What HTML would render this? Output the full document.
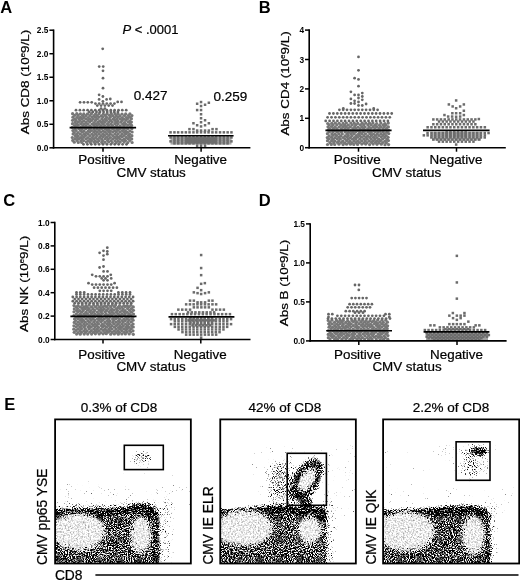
<!DOCTYPE html>
<html><head><meta charset="utf-8"><style>
html,body{margin:0;padding:0;background:#fff;}
svg{display:block;font-family:"Liberation Sans",sans-serif;filter:grayscale(1);} text{stroke:#000;stroke-width:0.22px;} text[font-weight=bold]{stroke:none;}
</style></head><body>
<svg width="520" height="581" viewBox="0 0 520 581">
<rect x="170.5" y="136.6" width="61.0" height="8.0" fill="#a8a8a8"/><rect x="432" y="132" width="49.0" height="8.5" fill="#b4b4b4"/><rect x="426" y="332.5" width="62.0" height="7.7" fill="#a0a0a0"/><g fill="#777777"><circle cx="72.6" cy="113.7" r="1.62"/><circle cx="76.8" cy="113.6" r="1.62"/><circle cx="80.4" cy="113.8" r="1.62"/><circle cx="83.8" cy="113.9" r="1.62"/><circle cx="87.5" cy="113.9" r="1.62"/><circle cx="91.4" cy="113.7" r="1.62"/><circle cx="95.5" cy="114.1" r="1.62"/><circle cx="99.0" cy="113.7" r="1.62"/><circle cx="103.3" cy="114.2" r="1.62"/><circle cx="107.1" cy="113.8" r="1.62"/><circle cx="111.3" cy="113.6" r="1.62"/><circle cx="115.0" cy="113.8" r="1.62"/><circle cx="118.0" cy="113.7" r="1.62"/><circle cx="122.0" cy="114.1" r="1.62"/><circle cx="125.7" cy="113.9" r="1.62"/><circle cx="129.9" cy="113.8" r="1.62"/><circle cx="74.7" cy="115.3" r="1.62"/><circle cx="78.1" cy="115.4" r="1.62"/><circle cx="82.5" cy="115.5" r="1.62"/><circle cx="85.9" cy="115.6" r="1.62"/><circle cx="89.9" cy="115.5" r="1.62"/><circle cx="94.0" cy="115.7" r="1.62"/><circle cx="97.2" cy="115.6" r="1.62"/><circle cx="101.3" cy="115.8" r="1.62"/><circle cx="105.3" cy="115.4" r="1.62"/><circle cx="109.4" cy="115.3" r="1.62"/><circle cx="112.6" cy="115.7" r="1.62"/><circle cx="116.2" cy="115.6" r="1.62"/><circle cx="119.8" cy="115.7" r="1.62"/><circle cx="124.4" cy="115.6" r="1.62"/><circle cx="128.3" cy="115.5" r="1.62"/><circle cx="131.9" cy="115.6" r="1.62"/><circle cx="72.9" cy="117.2" r="1.62"/><circle cx="76.9" cy="117.5" r="1.62"/><circle cx="80.4" cy="117.3" r="1.62"/><circle cx="83.8" cy="117.4" r="1.62"/><circle cx="88.1" cy="117.5" r="1.62"/><circle cx="92.1" cy="117.1" r="1.62"/><circle cx="95.5" cy="117.3" r="1.62"/><circle cx="98.9" cy="117.2" r="1.62"/><circle cx="102.9" cy="117.0" r="1.62"/><circle cx="106.6" cy="117.4" r="1.62"/><circle cx="110.4" cy="117.1" r="1.62"/><circle cx="114.5" cy="117.5" r="1.62"/><circle cx="118.0" cy="117.2" r="1.62"/><circle cx="122.2" cy="117.5" r="1.62"/><circle cx="126.3" cy="117.5" r="1.62"/><circle cx="129.6" cy="117.2" r="1.62"/><circle cx="74.6" cy="119.1" r="1.62"/><circle cx="79.0" cy="118.7" r="1.62"/><circle cx="82.0" cy="118.8" r="1.62"/><circle cx="85.8" cy="118.9" r="1.62"/><circle cx="90.0" cy="118.8" r="1.62"/><circle cx="93.2" cy="118.9" r="1.62"/><circle cx="97.4" cy="119.0" r="1.62"/><circle cx="101.8" cy="119.0" r="1.62"/><circle cx="105.1" cy="119.0" r="1.62"/><circle cx="109.1" cy="118.6" r="1.62"/><circle cx="113.1" cy="119.1" r="1.62"/><circle cx="116.9" cy="119.1" r="1.62"/><circle cx="120.2" cy="118.9" r="1.62"/><circle cx="123.7" cy="119.0" r="1.62"/><circle cx="127.5" cy="118.7" r="1.62"/><circle cx="131.4" cy="118.7" r="1.62"/><circle cx="72.6" cy="120.3" r="1.62"/><circle cx="76.1" cy="120.4" r="1.62"/><circle cx="80.0" cy="120.5" r="1.62"/><circle cx="83.7" cy="120.8" r="1.62"/><circle cx="88.1" cy="120.4" r="1.62"/><circle cx="91.6" cy="120.5" r="1.62"/><circle cx="95.5" cy="120.4" r="1.62"/><circle cx="99.7" cy="120.9" r="1.62"/><circle cx="103.2" cy="120.6" r="1.62"/><circle cx="106.6" cy="120.3" r="1.62"/><circle cx="110.6" cy="120.4" r="1.62"/><circle cx="114.9" cy="120.4" r="1.62"/><circle cx="117.9" cy="120.9" r="1.62"/><circle cx="122.2" cy="120.4" r="1.62"/><circle cx="126.0" cy="120.3" r="1.62"/><circle cx="129.8" cy="120.9" r="1.62"/><circle cx="75.1" cy="122.4" r="1.62"/><circle cx="78.3" cy="122.2" r="1.62"/><circle cx="82.0" cy="122.4" r="1.62"/><circle cx="86.1" cy="122.4" r="1.62"/><circle cx="89.7" cy="122.1" r="1.62"/><circle cx="94.0" cy="122.5" r="1.62"/><circle cx="97.9" cy="122.4" r="1.62"/><circle cx="101.6" cy="122.4" r="1.62"/><circle cx="104.8" cy="122.3" r="1.62"/><circle cx="108.8" cy="122.0" r="1.62"/><circle cx="112.2" cy="122.1" r="1.62"/><circle cx="116.3" cy="122.4" r="1.62"/><circle cx="120.8" cy="122.2" r="1.62"/><circle cx="124.5" cy="122.5" r="1.62"/><circle cx="128.4" cy="122.2" r="1.62"/><circle cx="131.4" cy="122.1" r="1.62"/><circle cx="72.5" cy="123.7" r="1.62"/><circle cx="76.7" cy="124.2" r="1.62"/><circle cx="80.7" cy="123.9" r="1.62"/><circle cx="84.4" cy="124.1" r="1.62"/><circle cx="87.6" cy="124.0" r="1.62"/><circle cx="92.2" cy="124.1" r="1.62"/><circle cx="95.9" cy="123.9" r="1.62"/><circle cx="99.1" cy="124.1" r="1.62"/><circle cx="103.0" cy="124.1" r="1.62"/><circle cx="107.5" cy="123.9" r="1.62"/><circle cx="110.7" cy="124.2" r="1.62"/><circle cx="114.8" cy="123.7" r="1.62"/><circle cx="118.0" cy="123.7" r="1.62"/><circle cx="122.6" cy="124.1" r="1.62"/><circle cx="125.6" cy="124.1" r="1.62"/><circle cx="130.3" cy="124.0" r="1.62"/><circle cx="74.6" cy="125.6" r="1.62"/><circle cx="78.1" cy="125.3" r="1.62"/><circle cx="82.8" cy="125.7" r="1.62"/><circle cx="86.1" cy="125.9" r="1.62"/><circle cx="89.8" cy="125.8" r="1.62"/><circle cx="94.0" cy="125.4" r="1.62"/><circle cx="97.3" cy="125.5" r="1.62"/><circle cx="101.0" cy="125.6" r="1.62"/><circle cx="104.9" cy="125.5" r="1.62"/><circle cx="108.5" cy="125.8" r="1.62"/><circle cx="112.6" cy="125.6" r="1.62"/><circle cx="116.6" cy="125.8" r="1.62"/><circle cx="120.2" cy="125.8" r="1.62"/><circle cx="124.1" cy="125.6" r="1.62"/><circle cx="127.9" cy="125.3" r="1.62"/><circle cx="131.6" cy="125.4" r="1.62"/><circle cx="72.3" cy="127.4" r="1.62"/><circle cx="76.3" cy="127.2" r="1.62"/><circle cx="80.6" cy="127.3" r="1.62"/><circle cx="84.0" cy="127.3" r="1.62"/><circle cx="88.1" cy="127.4" r="1.62"/><circle cx="91.4" cy="127.3" r="1.62"/><circle cx="95.3" cy="127.1" r="1.62"/><circle cx="99.7" cy="127.3" r="1.62"/><circle cx="103.3" cy="127.4" r="1.62"/><circle cx="107.4" cy="127.2" r="1.62"/><circle cx="110.9" cy="127.3" r="1.62"/><circle cx="114.6" cy="127.4" r="1.62"/><circle cx="118.4" cy="127.3" r="1.62"/><circle cx="122.2" cy="127.5" r="1.62"/><circle cx="126.2" cy="127.5" r="1.62"/><circle cx="130.2" cy="127.1" r="1.62"/><circle cx="74.8" cy="129.2" r="1.62"/><circle cx="78.8" cy="128.7" r="1.62"/><circle cx="81.9" cy="128.9" r="1.62"/><circle cx="85.7" cy="128.8" r="1.62"/><circle cx="89.5" cy="129.0" r="1.62"/><circle cx="94.0" cy="129.2" r="1.62"/><circle cx="97.2" cy="129.1" r="1.62"/><circle cx="101.5" cy="128.7" r="1.62"/><circle cx="105.5" cy="129.2" r="1.62"/><circle cx="108.6" cy="129.2" r="1.62"/><circle cx="112.6" cy="128.9" r="1.62"/><circle cx="117.0" cy="129.1" r="1.62"/><circle cx="120.0" cy="128.9" r="1.62"/><circle cx="124.1" cy="128.8" r="1.62"/><circle cx="127.6" cy="128.8" r="1.62"/><circle cx="131.9" cy="128.6" r="1.62"/><circle cx="72.9" cy="130.6" r="1.62"/><circle cx="76.1" cy="130.5" r="1.62"/><circle cx="80.5" cy="130.6" r="1.62"/><circle cx="83.8" cy="130.9" r="1.62"/><circle cx="88.3" cy="130.9" r="1.62"/><circle cx="91.4" cy="130.5" r="1.62"/><circle cx="95.1" cy="130.8" r="1.62"/><circle cx="99.2" cy="130.4" r="1.62"/><circle cx="103.1" cy="130.9" r="1.62"/><circle cx="107.3" cy="130.5" r="1.62"/><circle cx="110.4" cy="130.9" r="1.62"/><circle cx="114.7" cy="130.7" r="1.62"/><circle cx="118.0" cy="130.3" r="1.62"/><circle cx="122.4" cy="130.6" r="1.62"/><circle cx="125.6" cy="130.9" r="1.62"/><circle cx="129.9" cy="130.8" r="1.62"/><circle cx="74.3" cy="132.5" r="1.62"/><circle cx="78.1" cy="132.5" r="1.62"/><circle cx="82.3" cy="132.2" r="1.62"/><circle cx="86.2" cy="132.5" r="1.62"/><circle cx="89.7" cy="132.1" r="1.62"/><circle cx="93.7" cy="132.1" r="1.62"/><circle cx="97.1" cy="132.1" r="1.62"/><circle cx="100.9" cy="132.1" r="1.62"/><circle cx="104.9" cy="132.2" r="1.62"/><circle cx="109.2" cy="132.2" r="1.62"/><circle cx="112.7" cy="132.1" r="1.62"/><circle cx="116.3" cy="132.0" r="1.62"/><circle cx="120.1" cy="132.0" r="1.62"/><circle cx="124.3" cy="132.3" r="1.62"/><circle cx="127.6" cy="132.3" r="1.62"/><circle cx="132.1" cy="132.0" r="1.62"/><circle cx="73.1" cy="133.9" r="1.62"/><circle cx="76.6" cy="134.1" r="1.62"/><circle cx="80.3" cy="134.0" r="1.62"/><circle cx="84.4" cy="134.2" r="1.62"/><circle cx="87.8" cy="134.1" r="1.62"/><circle cx="92.0" cy="134.0" r="1.62"/><circle cx="95.5" cy="133.9" r="1.62"/><circle cx="99.0" cy="133.7" r="1.62"/><circle cx="102.8" cy="134.1" r="1.62"/><circle cx="106.8" cy="133.7" r="1.62"/><circle cx="110.4" cy="134.2" r="1.62"/><circle cx="115.0" cy="134.0" r="1.62"/><circle cx="118.2" cy="133.8" r="1.62"/><circle cx="122.0" cy="133.9" r="1.62"/><circle cx="125.7" cy="133.9" r="1.62"/><circle cx="129.6" cy="134.2" r="1.62"/><circle cx="75.2" cy="135.6" r="1.62"/><circle cx="78.2" cy="135.9" r="1.62"/><circle cx="82.1" cy="135.5" r="1.62"/><circle cx="85.6" cy="135.5" r="1.62"/><circle cx="89.9" cy="135.6" r="1.62"/><circle cx="93.4" cy="135.6" r="1.62"/><circle cx="97.0" cy="135.5" r="1.62"/><circle cx="100.9" cy="135.6" r="1.62"/><circle cx="104.6" cy="135.3" r="1.62"/><circle cx="108.7" cy="135.5" r="1.62"/><circle cx="112.8" cy="135.6" r="1.62"/><circle cx="116.8" cy="135.7" r="1.62"/><circle cx="120.5" cy="135.8" r="1.62"/><circle cx="124.0" cy="135.5" r="1.62"/><circle cx="128.4" cy="135.4" r="1.62"/><circle cx="131.9" cy="135.7" r="1.62"/><circle cx="72.3" cy="137.5" r="1.62"/><circle cx="77.0" cy="137.4" r="1.62"/><circle cx="80.6" cy="137.5" r="1.62"/><circle cx="83.8" cy="137.3" r="1.62"/><circle cx="88.0" cy="137.5" r="1.62"/><circle cx="92.1" cy="137.5" r="1.62"/><circle cx="95.7" cy="137.5" r="1.62"/><circle cx="99.6" cy="137.4" r="1.62"/><circle cx="102.9" cy="137.0" r="1.62"/><circle cx="106.6" cy="137.2" r="1.62"/><circle cx="110.4" cy="137.5" r="1.62"/><circle cx="114.7" cy="137.4" r="1.62"/><circle cx="118.5" cy="137.4" r="1.62"/><circle cx="122.2" cy="137.0" r="1.62"/><circle cx="126.3" cy="137.4" r="1.62"/><circle cx="129.8" cy="137.3" r="1.62"/><circle cx="74.9" cy="138.7" r="1.62"/><circle cx="78.7" cy="138.8" r="1.62"/><circle cx="81.9" cy="138.8" r="1.62"/><circle cx="86.3" cy="138.8" r="1.62"/><circle cx="90.1" cy="139.2" r="1.62"/><circle cx="93.7" cy="138.9" r="1.62"/><circle cx="97.5" cy="139.1" r="1.62"/><circle cx="101.6" cy="139.0" r="1.62"/><circle cx="105.2" cy="138.7" r="1.62"/><circle cx="108.5" cy="138.8" r="1.62"/><circle cx="112.9" cy="138.8" r="1.62"/><circle cx="116.6" cy="138.7" r="1.62"/><circle cx="119.9" cy="138.8" r="1.62"/><circle cx="124.3" cy="139.1" r="1.62"/><circle cx="128.1" cy="138.8" r="1.62"/><circle cx="131.7" cy="138.9" r="1.62"/><circle cx="72.8" cy="140.4" r="1.62"/><circle cx="77.0" cy="140.4" r="1.62"/><circle cx="80.9" cy="140.9" r="1.62"/><circle cx="83.7" cy="140.6" r="1.62"/><circle cx="88.3" cy="140.9" r="1.62"/><circle cx="91.7" cy="140.5" r="1.62"/><circle cx="95.3" cy="140.9" r="1.62"/><circle cx="99.1" cy="140.7" r="1.62"/><circle cx="102.8" cy="140.6" r="1.62"/><circle cx="107.5" cy="140.4" r="1.62"/><circle cx="111.1" cy="140.6" r="1.62"/><circle cx="115.0" cy="140.8" r="1.62"/><circle cx="118.1" cy="140.9" r="1.62"/><circle cx="122.2" cy="140.3" r="1.62"/><circle cx="125.5" cy="140.6" r="1.62"/><circle cx="129.8" cy="140.5" r="1.62"/><circle cx="74.3" cy="142.2" r="1.62"/><circle cx="78.3" cy="142.5" r="1.62"/><circle cx="81.8" cy="142.5" r="1.62"/><circle cx="86.4" cy="142.1" r="1.62"/><circle cx="90.3" cy="142.4" r="1.62"/><circle cx="94.1" cy="142.2" r="1.62"/><circle cx="97.4" cy="142.2" r="1.62"/><circle cx="101.8" cy="142.4" r="1.62"/><circle cx="105.0" cy="142.3" r="1.62"/><circle cx="108.7" cy="142.0" r="1.62"/><circle cx="112.3" cy="142.5" r="1.62"/><circle cx="116.3" cy="142.6" r="1.62"/><circle cx="120.0" cy="142.2" r="1.62"/><circle cx="124.1" cy="142.1" r="1.62"/><circle cx="127.8" cy="142.6" r="1.62"/><circle cx="132.1" cy="142.5" r="1.62"/><circle cx="327.7" cy="123.5" r="1.62"/><circle cx="331.8" cy="123.3" r="1.62"/><circle cx="335.4" cy="123.0" r="1.62"/><circle cx="339.2" cy="123.3" r="1.62"/><circle cx="343.1" cy="123.4" r="1.62"/><circle cx="346.4" cy="123.0" r="1.62"/><circle cx="350.8" cy="123.1" r="1.62"/><circle cx="354.2" cy="123.2" r="1.62"/><circle cx="357.8" cy="123.4" r="1.62"/><circle cx="362.3" cy="123.2" r="1.62"/><circle cx="365.8" cy="123.2" r="1.62"/><circle cx="369.5" cy="123.2" r="1.62"/><circle cx="372.9" cy="123.1" r="1.62"/><circle cx="376.7" cy="123.5" r="1.62"/><circle cx="380.8" cy="123.1" r="1.62"/><circle cx="385.0" cy="123.6" r="1.62"/><circle cx="388.3" cy="123.1" r="1.62"/><circle cx="329.2" cy="124.8" r="1.62"/><circle cx="333.1" cy="124.8" r="1.62"/><circle cx="336.8" cy="124.9" r="1.62"/><circle cx="341.0" cy="125.3" r="1.62"/><circle cx="344.9" cy="125.0" r="1.62"/><circle cx="348.4" cy="125.1" r="1.62"/><circle cx="352.2" cy="125.0" r="1.62"/><circle cx="355.7" cy="124.9" r="1.62"/><circle cx="360.4" cy="124.8" r="1.62"/><circle cx="363.7" cy="125.1" r="1.62"/><circle cx="367.9" cy="124.9" r="1.62"/><circle cx="371.1" cy="124.9" r="1.62"/><circle cx="375.0" cy="125.0" r="1.62"/><circle cx="379.4" cy="125.3" r="1.62"/><circle cx="383.1" cy="124.8" r="1.62"/><circle cx="386.0" cy="125.2" r="1.62"/><circle cx="328.0" cy="126.8" r="1.62"/><circle cx="331.5" cy="126.5" r="1.62"/><circle cx="335.1" cy="127.1" r="1.62"/><circle cx="339.3" cy="127.0" r="1.62"/><circle cx="343.3" cy="126.7" r="1.62"/><circle cx="346.2" cy="126.6" r="1.62"/><circle cx="350.4" cy="126.9" r="1.62"/><circle cx="354.6" cy="126.9" r="1.62"/><circle cx="358.1" cy="127.0" r="1.62"/><circle cx="361.8" cy="126.8" r="1.62"/><circle cx="365.1" cy="127.0" r="1.62"/><circle cx="369.1" cy="127.1" r="1.62"/><circle cx="373.3" cy="126.7" r="1.62"/><circle cx="376.6" cy="126.7" r="1.62"/><circle cx="380.9" cy="126.9" r="1.62"/><circle cx="384.2" cy="126.6" r="1.62"/><circle cx="388.4" cy="126.9" r="1.62"/><circle cx="329.4" cy="128.4" r="1.62"/><circle cx="333.4" cy="128.3" r="1.62"/><circle cx="336.9" cy="128.6" r="1.62"/><circle cx="341.4" cy="128.7" r="1.62"/><circle cx="345.1" cy="128.6" r="1.62"/><circle cx="348.2" cy="128.4" r="1.62"/><circle cx="352.8" cy="128.7" r="1.62"/><circle cx="355.9" cy="128.3" r="1.62"/><circle cx="359.9" cy="128.7" r="1.62"/><circle cx="363.6" cy="128.4" r="1.62"/><circle cx="367.7" cy="128.8" r="1.62"/><circle cx="371.0" cy="128.3" r="1.62"/><circle cx="374.9" cy="128.5" r="1.62"/><circle cx="379.1" cy="128.4" r="1.62"/><circle cx="383.0" cy="128.7" r="1.62"/><circle cx="386.5" cy="128.4" r="1.62"/><circle cx="328.1" cy="130.2" r="1.62"/><circle cx="331.7" cy="130.2" r="1.62"/><circle cx="334.9" cy="130.5" r="1.62"/><circle cx="338.8" cy="130.6" r="1.62"/><circle cx="342.8" cy="130.1" r="1.62"/><circle cx="346.3" cy="130.3" r="1.62"/><circle cx="350.6" cy="130.6" r="1.62"/><circle cx="353.8" cy="130.3" r="1.62"/><circle cx="357.7" cy="130.6" r="1.62"/><circle cx="361.4" cy="130.1" r="1.62"/><circle cx="365.2" cy="130.3" r="1.62"/><circle cx="369.8" cy="130.6" r="1.62"/><circle cx="373.4" cy="130.6" r="1.62"/><circle cx="377.4" cy="130.2" r="1.62"/><circle cx="380.5" cy="130.6" r="1.62"/><circle cx="384.8" cy="130.1" r="1.62"/><circle cx="388.6" cy="130.3" r="1.62"/><circle cx="329.4" cy="132.0" r="1.62"/><circle cx="333.0" cy="131.8" r="1.62"/><circle cx="336.9" cy="132.0" r="1.62"/><circle cx="341.4" cy="131.9" r="1.62"/><circle cx="345.2" cy="131.9" r="1.62"/><circle cx="348.4" cy="132.3" r="1.62"/><circle cx="352.6" cy="132.1" r="1.62"/><circle cx="355.6" cy="132.1" r="1.62"/><circle cx="359.8" cy="132.3" r="1.62"/><circle cx="363.4" cy="132.0" r="1.62"/><circle cx="367.9" cy="131.8" r="1.62"/><circle cx="371.2" cy="132.3" r="1.62"/><circle cx="375.4" cy="131.8" r="1.62"/><circle cx="378.4" cy="131.8" r="1.62"/><circle cx="383.1" cy="131.9" r="1.62"/><circle cx="386.7" cy="132.3" r="1.62"/><circle cx="327.4" cy="133.7" r="1.62"/><circle cx="331.9" cy="133.9" r="1.62"/><circle cx="335.0" cy="134.0" r="1.62"/><circle cx="338.8" cy="133.7" r="1.62"/><circle cx="342.3" cy="134.0" r="1.62"/><circle cx="347.0" cy="133.9" r="1.62"/><circle cx="350.8" cy="133.6" r="1.62"/><circle cx="353.9" cy="133.8" r="1.62"/><circle cx="358.5" cy="134.1" r="1.62"/><circle cx="361.7" cy="133.7" r="1.62"/><circle cx="365.5" cy="133.8" r="1.62"/><circle cx="369.8" cy="133.7" r="1.62"/><circle cx="373.5" cy="134.0" r="1.62"/><circle cx="377.3" cy="134.0" r="1.62"/><circle cx="380.9" cy="133.7" r="1.62"/><circle cx="384.4" cy="133.8" r="1.62"/><circle cx="388.7" cy="133.6" r="1.62"/><circle cx="329.2" cy="135.8" r="1.62"/><circle cx="333.0" cy="135.3" r="1.62"/><circle cx="336.6" cy="135.6" r="1.62"/><circle cx="340.7" cy="135.9" r="1.62"/><circle cx="345.1" cy="135.9" r="1.62"/><circle cx="348.3" cy="135.4" r="1.62"/><circle cx="351.9" cy="135.6" r="1.62"/><circle cx="356.3" cy="135.6" r="1.62"/><circle cx="359.6" cy="135.6" r="1.62"/><circle cx="363.8" cy="135.7" r="1.62"/><circle cx="367.7" cy="135.8" r="1.62"/><circle cx="371.5" cy="135.4" r="1.62"/><circle cx="375.4" cy="135.5" r="1.62"/><circle cx="379.0" cy="135.5" r="1.62"/><circle cx="382.9" cy="135.4" r="1.62"/><circle cx="386.2" cy="135.5" r="1.62"/><circle cx="327.3" cy="137.6" r="1.62"/><circle cx="331.5" cy="137.3" r="1.62"/><circle cx="335.1" cy="137.7" r="1.62"/><circle cx="339.0" cy="137.2" r="1.62"/><circle cx="343.1" cy="137.5" r="1.62"/><circle cx="347.1" cy="137.1" r="1.62"/><circle cx="350.4" cy="137.6" r="1.62"/><circle cx="354.5" cy="137.6" r="1.62"/><circle cx="357.5" cy="137.2" r="1.62"/><circle cx="361.4" cy="137.2" r="1.62"/><circle cx="366.1" cy="137.4" r="1.62"/><circle cx="369.8" cy="137.3" r="1.62"/><circle cx="373.6" cy="137.3" r="1.62"/><circle cx="376.8" cy="137.5" r="1.62"/><circle cx="381.2" cy="137.1" r="1.62"/><circle cx="384.7" cy="137.4" r="1.62"/><circle cx="388.1" cy="137.3" r="1.62"/><circle cx="329.1" cy="138.9" r="1.62"/><circle cx="333.1" cy="139.2" r="1.62"/><circle cx="337.3" cy="138.9" r="1.62"/><circle cx="340.4" cy="139.0" r="1.62"/><circle cx="344.9" cy="138.9" r="1.62"/><circle cx="348.3" cy="138.9" r="1.62"/><circle cx="352.6" cy="139.2" r="1.62"/><circle cx="355.7" cy="138.9" r="1.62"/><circle cx="359.8" cy="139.2" r="1.62"/><circle cx="363.8" cy="138.9" r="1.62"/><circle cx="367.2" cy="139.2" r="1.62"/><circle cx="371.2" cy="139.0" r="1.62"/><circle cx="374.9" cy="139.4" r="1.62"/><circle cx="378.7" cy="139.2" r="1.62"/><circle cx="382.6" cy="139.1" r="1.62"/><circle cx="386.9" cy="139.4" r="1.62"/><circle cx="327.5" cy="140.7" r="1.62"/><circle cx="331.6" cy="140.7" r="1.62"/><circle cx="334.7" cy="141.1" r="1.62"/><circle cx="338.9" cy="141.1" r="1.62"/><circle cx="342.7" cy="141.1" r="1.62"/><circle cx="346.6" cy="140.7" r="1.62"/><circle cx="349.9" cy="140.9" r="1.62"/><circle cx="354.3" cy="141.1" r="1.62"/><circle cx="357.6" cy="141.0" r="1.62"/><circle cx="361.7" cy="140.9" r="1.62"/><circle cx="365.2" cy="140.8" r="1.62"/><circle cx="369.4" cy="141.1" r="1.62"/><circle cx="372.8" cy="140.9" r="1.62"/><circle cx="377.3" cy="141.2" r="1.62"/><circle cx="380.5" cy="140.7" r="1.62"/><circle cx="385.0" cy="141.2" r="1.62"/><circle cx="388.4" cy="140.6" r="1.62"/><circle cx="329.9" cy="142.6" r="1.62"/><circle cx="333.7" cy="142.7" r="1.62"/><circle cx="337.4" cy="142.4" r="1.62"/><circle cx="341.2" cy="142.5" r="1.62"/><circle cx="344.6" cy="142.8" r="1.62"/><circle cx="348.8" cy="142.5" r="1.62"/><circle cx="352.0" cy="142.6" r="1.62"/><circle cx="356.1" cy="142.6" r="1.62"/><circle cx="359.5" cy="142.5" r="1.62"/><circle cx="363.9" cy="142.9" r="1.62"/><circle cx="367.0" cy="142.7" r="1.62"/><circle cx="371.6" cy="142.4" r="1.62"/><circle cx="375.4" cy="142.4" r="1.62"/><circle cx="379.0" cy="142.7" r="1.62"/><circle cx="382.8" cy="142.5" r="1.62"/><circle cx="386.4" cy="142.7" r="1.62"/><circle cx="327.5" cy="144.5" r="1.62"/><circle cx="331.3" cy="144.4" r="1.62"/><circle cx="334.7" cy="144.5" r="1.62"/><circle cx="339.0" cy="144.2" r="1.62"/><circle cx="343.1" cy="144.6" r="1.62"/><circle cx="346.6" cy="144.2" r="1.62"/><circle cx="350.4" cy="144.2" r="1.62"/><circle cx="353.8" cy="144.4" r="1.62"/><circle cx="357.6" cy="144.4" r="1.62"/><circle cx="361.8" cy="144.1" r="1.62"/><circle cx="365.7" cy="144.1" r="1.62"/><circle cx="369.6" cy="144.6" r="1.62"/><circle cx="373.2" cy="144.1" r="1.62"/><circle cx="377.0" cy="144.3" r="1.62"/><circle cx="381.3" cy="144.2" r="1.62"/><circle cx="385.0" cy="144.7" r="1.62"/><circle cx="388.6" cy="144.6" r="1.62"/><circle cx="74.0" cy="305.6" r="1.62"/><circle cx="78.1" cy="305.6" r="1.62"/><circle cx="82.3" cy="305.1" r="1.62"/><circle cx="86.0" cy="305.6" r="1.62"/><circle cx="89.1" cy="305.2" r="1.62"/><circle cx="93.6" cy="305.1" r="1.62"/><circle cx="97.5" cy="305.2" r="1.62"/><circle cx="101.2" cy="305.1" r="1.62"/><circle cx="104.7" cy="305.6" r="1.62"/><circle cx="108.2" cy="305.2" r="1.62"/><circle cx="112.3" cy="305.2" r="1.62"/><circle cx="115.6" cy="305.1" r="1.62"/><circle cx="119.6" cy="305.6" r="1.62"/><circle cx="123.9" cy="305.5" r="1.62"/><circle cx="127.2" cy="305.5" r="1.62"/><circle cx="130.9" cy="305.3" r="1.62"/><circle cx="76.3" cy="306.9" r="1.62"/><circle cx="80.4" cy="307.0" r="1.62"/><circle cx="83.9" cy="307.2" r="1.62"/><circle cx="87.2" cy="307.3" r="1.62"/><circle cx="91.5" cy="306.9" r="1.62"/><circle cx="95.5" cy="306.8" r="1.62"/><circle cx="99.5" cy="307.0" r="1.62"/><circle cx="102.7" cy="307.1" r="1.62"/><circle cx="106.5" cy="306.8" r="1.62"/><circle cx="110.6" cy="306.7" r="1.62"/><circle cx="114.5" cy="306.8" r="1.62"/><circle cx="118.1" cy="307.3" r="1.62"/><circle cx="121.9" cy="307.1" r="1.62"/><circle cx="125.4" cy="306.7" r="1.62"/><circle cx="128.9" cy="306.8" r="1.62"/><circle cx="133.3" cy="306.9" r="1.62"/><circle cx="74.3" cy="308.9" r="1.62"/><circle cx="77.7" cy="308.5" r="1.62"/><circle cx="82.1" cy="308.4" r="1.62"/><circle cx="85.2" cy="308.6" r="1.62"/><circle cx="89.1" cy="308.6" r="1.62"/><circle cx="93.0" cy="308.7" r="1.62"/><circle cx="97.2" cy="308.5" r="1.62"/><circle cx="101.0" cy="308.7" r="1.62"/><circle cx="104.3" cy="308.9" r="1.62"/><circle cx="108.2" cy="308.5" r="1.62"/><circle cx="111.9" cy="308.8" r="1.62"/><circle cx="116.5" cy="308.8" r="1.62"/><circle cx="119.8" cy="308.5" r="1.62"/><circle cx="123.2" cy="308.8" r="1.62"/><circle cx="127.6" cy="308.6" r="1.62"/><circle cx="131.4" cy="308.6" r="1.62"/><circle cx="76.6" cy="310.5" r="1.62"/><circle cx="79.7" cy="310.6" r="1.62"/><circle cx="83.3" cy="310.4" r="1.62"/><circle cx="87.5" cy="310.2" r="1.62"/><circle cx="91.0" cy="310.5" r="1.62"/><circle cx="94.7" cy="310.4" r="1.62"/><circle cx="99.4" cy="310.2" r="1.62"/><circle cx="102.5" cy="310.4" r="1.62"/><circle cx="106.6" cy="310.4" r="1.62"/><circle cx="110.7" cy="310.2" r="1.62"/><circle cx="114.0" cy="310.2" r="1.62"/><circle cx="117.5" cy="310.6" r="1.62"/><circle cx="122.1" cy="310.5" r="1.62"/><circle cx="125.1" cy="310.6" r="1.62"/><circle cx="129.6" cy="310.3" r="1.62"/><circle cx="133.4" cy="310.3" r="1.62"/><circle cx="74.0" cy="311.8" r="1.62"/><circle cx="77.8" cy="311.8" r="1.62"/><circle cx="81.7" cy="312.2" r="1.62"/><circle cx="85.9" cy="312.3" r="1.62"/><circle cx="89.7" cy="311.9" r="1.62"/><circle cx="93.4" cy="312.0" r="1.62"/><circle cx="97.4" cy="312.1" r="1.62"/><circle cx="100.7" cy="312.1" r="1.62"/><circle cx="105.2" cy="311.9" r="1.62"/><circle cx="108.9" cy="311.8" r="1.62"/><circle cx="112.1" cy="311.9" r="1.62"/><circle cx="116.3" cy="312.3" r="1.62"/><circle cx="120.1" cy="311.9" r="1.62"/><circle cx="124.1" cy="312.0" r="1.62"/><circle cx="127.2" cy="312.3" r="1.62"/><circle cx="131.4" cy="312.2" r="1.62"/><circle cx="76.4" cy="314.0" r="1.62"/><circle cx="80.0" cy="313.9" r="1.62"/><circle cx="84.0" cy="314.0" r="1.62"/><circle cx="87.5" cy="313.9" r="1.62"/><circle cx="91.5" cy="313.6" r="1.62"/><circle cx="94.9" cy="313.8" r="1.62"/><circle cx="98.6" cy="314.0" r="1.62"/><circle cx="102.4" cy="313.5" r="1.62"/><circle cx="106.2" cy="314.0" r="1.62"/><circle cx="110.2" cy="313.5" r="1.62"/><circle cx="113.7" cy="313.5" r="1.62"/><circle cx="118.2" cy="313.8" r="1.62"/><circle cx="122.0" cy="313.9" r="1.62"/><circle cx="125.2" cy="313.8" r="1.62"/><circle cx="129.3" cy="313.9" r="1.62"/><circle cx="133.5" cy="314.0" r="1.62"/><circle cx="73.9" cy="315.7" r="1.62"/><circle cx="78.5" cy="315.7" r="1.62"/><circle cx="81.5" cy="315.3" r="1.62"/><circle cx="85.3" cy="315.2" r="1.62"/><circle cx="89.8" cy="315.6" r="1.62"/><circle cx="93.4" cy="315.6" r="1.62"/><circle cx="97.2" cy="315.3" r="1.62"/><circle cx="100.5" cy="315.2" r="1.62"/><circle cx="105.0" cy="315.3" r="1.62"/><circle cx="108.3" cy="315.4" r="1.62"/><circle cx="111.8" cy="315.3" r="1.62"/><circle cx="115.9" cy="315.6" r="1.62"/><circle cx="119.8" cy="315.3" r="1.62"/><circle cx="124.2" cy="315.4" r="1.62"/><circle cx="127.9" cy="315.5" r="1.62"/><circle cx="130.8" cy="315.4" r="1.62"/><circle cx="76.1" cy="317.3" r="1.62"/><circle cx="79.8" cy="317.2" r="1.62"/><circle cx="83.8" cy="316.9" r="1.62"/><circle cx="88.0" cy="316.9" r="1.62"/><circle cx="91.7" cy="316.9" r="1.62"/><circle cx="94.7" cy="316.9" r="1.62"/><circle cx="99.3" cy="317.4" r="1.62"/><circle cx="102.3" cy="317.1" r="1.62"/><circle cx="106.6" cy="317.3" r="1.62"/><circle cx="110.1" cy="317.1" r="1.62"/><circle cx="114.0" cy="317.3" r="1.62"/><circle cx="117.8" cy="317.4" r="1.62"/><circle cx="121.6" cy="316.9" r="1.62"/><circle cx="125.8" cy="317.1" r="1.62"/><circle cx="129.0" cy="317.2" r="1.62"/><circle cx="132.8" cy="317.3" r="1.62"/><circle cx="74.5" cy="319.0" r="1.62"/><circle cx="78.2" cy="318.7" r="1.62"/><circle cx="81.8" cy="318.7" r="1.62"/><circle cx="86.1" cy="318.6" r="1.62"/><circle cx="89.9" cy="318.5" r="1.62"/><circle cx="93.0" cy="318.7" r="1.62"/><circle cx="97.5" cy="318.8" r="1.62"/><circle cx="100.8" cy="319.0" r="1.62"/><circle cx="104.4" cy="318.8" r="1.62"/><circle cx="108.5" cy="319.0" r="1.62"/><circle cx="112.6" cy="318.9" r="1.62"/><circle cx="115.9" cy="318.7" r="1.62"/><circle cx="119.6" cy="319.0" r="1.62"/><circle cx="123.9" cy="319.0" r="1.62"/><circle cx="127.2" cy="318.8" r="1.62"/><circle cx="131.6" cy="318.9" r="1.62"/><circle cx="75.8" cy="320.5" r="1.62"/><circle cx="80.4" cy="320.3" r="1.62"/><circle cx="83.5" cy="320.4" r="1.62"/><circle cx="87.8" cy="320.7" r="1.62"/><circle cx="91.1" cy="320.3" r="1.62"/><circle cx="94.9" cy="320.4" r="1.62"/><circle cx="99.0" cy="320.3" r="1.62"/><circle cx="102.6" cy="320.3" r="1.62"/><circle cx="107.1" cy="320.6" r="1.62"/><circle cx="110.0" cy="320.8" r="1.62"/><circle cx="113.8" cy="320.4" r="1.62"/><circle cx="118.5" cy="320.7" r="1.62"/><circle cx="122.0" cy="320.5" r="1.62"/><circle cx="125.3" cy="320.6" r="1.62"/><circle cx="129.0" cy="320.3" r="1.62"/><circle cx="133.1" cy="320.2" r="1.62"/><circle cx="74.2" cy="322.4" r="1.62"/><circle cx="78.3" cy="322.2" r="1.62"/><circle cx="82.0" cy="322.2" r="1.62"/><circle cx="85.3" cy="322.2" r="1.62"/><circle cx="89.4" cy="322.3" r="1.62"/><circle cx="93.7" cy="322.1" r="1.62"/><circle cx="97.2" cy="322.3" r="1.62"/><circle cx="100.8" cy="322.0" r="1.62"/><circle cx="104.9" cy="322.4" r="1.62"/><circle cx="108.8" cy="322.3" r="1.62"/><circle cx="112.7" cy="322.3" r="1.62"/><circle cx="116.2" cy="322.2" r="1.62"/><circle cx="119.7" cy="322.3" r="1.62"/><circle cx="123.3" cy="322.1" r="1.62"/><circle cx="127.8" cy="322.3" r="1.62"/><circle cx="131.4" cy="322.0" r="1.62"/><circle cx="76.1" cy="323.8" r="1.62"/><circle cx="80.1" cy="323.8" r="1.62"/><circle cx="84.0" cy="324.1" r="1.62"/><circle cx="87.3" cy="324.0" r="1.62"/><circle cx="91.7" cy="323.8" r="1.62"/><circle cx="95.2" cy="324.2" r="1.62"/><circle cx="98.5" cy="323.9" r="1.62"/><circle cx="102.5" cy="324.0" r="1.62"/><circle cx="107.0" cy="323.9" r="1.62"/><circle cx="110.0" cy="323.9" r="1.62"/><circle cx="114.2" cy="324.0" r="1.62"/><circle cx="118.0" cy="324.0" r="1.62"/><circle cx="122.1" cy="323.9" r="1.62"/><circle cx="125.5" cy="324.1" r="1.62"/><circle cx="129.1" cy="324.0" r="1.62"/><circle cx="133.1" cy="324.0" r="1.62"/><circle cx="73.9" cy="325.8" r="1.62"/><circle cx="78.0" cy="325.3" r="1.62"/><circle cx="81.7" cy="325.5" r="1.62"/><circle cx="85.2" cy="325.5" r="1.62"/><circle cx="89.4" cy="325.7" r="1.62"/><circle cx="93.2" cy="325.4" r="1.62"/><circle cx="96.8" cy="325.7" r="1.62"/><circle cx="101.3" cy="325.6" r="1.62"/><circle cx="104.4" cy="325.7" r="1.62"/><circle cx="108.4" cy="325.4" r="1.62"/><circle cx="111.9" cy="325.7" r="1.62"/><circle cx="116.4" cy="325.6" r="1.62"/><circle cx="119.9" cy="325.6" r="1.62"/><circle cx="123.4" cy="325.8" r="1.62"/><circle cx="127.4" cy="325.6" r="1.62"/><circle cx="131.6" cy="325.7" r="1.62"/><circle cx="76.2" cy="327.1" r="1.62"/><circle cx="80.0" cy="327.0" r="1.62"/><circle cx="84.1" cy="327.2" r="1.62"/><circle cx="88.0" cy="327.1" r="1.62"/><circle cx="91.3" cy="327.1" r="1.62"/><circle cx="95.1" cy="327.1" r="1.62"/><circle cx="98.5" cy="327.4" r="1.62"/><circle cx="102.6" cy="327.1" r="1.62"/><circle cx="106.4" cy="327.2" r="1.62"/><circle cx="110.3" cy="327.3" r="1.62"/><circle cx="114.4" cy="327.2" r="1.62"/><circle cx="118.4" cy="327.5" r="1.62"/><circle cx="121.4" cy="327.4" r="1.62"/><circle cx="126.0" cy="327.4" r="1.62"/><circle cx="129.0" cy="327.4" r="1.62"/><circle cx="133.3" cy="327.0" r="1.62"/><circle cx="73.8" cy="329.2" r="1.62"/><circle cx="78.3" cy="328.8" r="1.62"/><circle cx="81.5" cy="328.7" r="1.62"/><circle cx="85.4" cy="329.1" r="1.62"/><circle cx="89.3" cy="328.7" r="1.62"/><circle cx="93.7" cy="329.1" r="1.62"/><circle cx="96.8" cy="329.2" r="1.62"/><circle cx="101.0" cy="329.1" r="1.62"/><circle cx="104.9" cy="329.2" r="1.62"/><circle cx="108.8" cy="329.1" r="1.62"/><circle cx="112.0" cy="329.1" r="1.62"/><circle cx="116.1" cy="329.1" r="1.62"/><circle cx="119.8" cy="329.2" r="1.62"/><circle cx="123.8" cy="328.8" r="1.62"/><circle cx="127.2" cy="328.7" r="1.62"/><circle cx="131.3" cy="328.7" r="1.62"/><circle cx="76.2" cy="330.4" r="1.62"/><circle cx="80.0" cy="330.6" r="1.62"/><circle cx="83.8" cy="330.8" r="1.62"/><circle cx="87.1" cy="330.8" r="1.62"/><circle cx="91.4" cy="330.7" r="1.62"/><circle cx="95.4" cy="330.8" r="1.62"/><circle cx="98.9" cy="330.6" r="1.62"/><circle cx="103.3" cy="330.4" r="1.62"/><circle cx="106.7" cy="330.7" r="1.62"/><circle cx="109.9" cy="330.7" r="1.62"/><circle cx="114.4" cy="330.9" r="1.62"/><circle cx="117.8" cy="330.9" r="1.62"/><circle cx="121.8" cy="330.6" r="1.62"/><circle cx="126.0" cy="330.3" r="1.62"/><circle cx="129.6" cy="330.7" r="1.62"/><circle cx="133.0" cy="330.8" r="1.62"/><circle cx="74.2" cy="332.3" r="1.62"/><circle cx="78.1" cy="332.5" r="1.62"/><circle cx="81.6" cy="332.3" r="1.62"/><circle cx="85.6" cy="332.3" r="1.62"/><circle cx="89.8" cy="332.2" r="1.62"/><circle cx="93.6" cy="332.3" r="1.62"/><circle cx="97.1" cy="332.2" r="1.62"/><circle cx="100.9" cy="332.6" r="1.62"/><circle cx="104.9" cy="332.5" r="1.62"/><circle cx="108.3" cy="332.2" r="1.62"/><circle cx="112.1" cy="332.4" r="1.62"/><circle cx="116.2" cy="332.5" r="1.62"/><circle cx="119.4" cy="332.4" r="1.62"/><circle cx="124.1" cy="332.3" r="1.62"/><circle cx="127.0" cy="332.2" r="1.62"/><circle cx="130.8" cy="332.1" r="1.62"/><circle cx="76.6" cy="334.1" r="1.62"/><circle cx="80.2" cy="334.2" r="1.62"/><circle cx="84.2" cy="334.1" r="1.62"/><circle cx="87.7" cy="334.1" r="1.62"/><circle cx="91.6" cy="334.1" r="1.62"/><circle cx="95.4" cy="333.8" r="1.62"/><circle cx="99.2" cy="334.0" r="1.62"/><circle cx="103.1" cy="333.8" r="1.62"/><circle cx="106.3" cy="333.7" r="1.62"/><circle cx="110.7" cy="334.2" r="1.62"/><circle cx="114.4" cy="333.9" r="1.62"/><circle cx="118.3" cy="334.2" r="1.62"/><circle cx="121.9" cy="333.9" r="1.62"/><circle cx="125.4" cy="334.0" r="1.62"/><circle cx="129.2" cy="334.0" r="1.62"/><circle cx="133.3" cy="334.3" r="1.62"/><circle cx="328.2" cy="320.4" r="1.62"/><circle cx="331.9" cy="320.2" r="1.62"/><circle cx="336.5" cy="320.4" r="1.62"/><circle cx="340.4" cy="320.4" r="1.62"/><circle cx="343.3" cy="320.3" r="1.62"/><circle cx="347.7" cy="320.7" r="1.62"/><circle cx="351.9" cy="320.4" r="1.62"/><circle cx="355.1" cy="320.2" r="1.62"/><circle cx="359.1" cy="320.2" r="1.62"/><circle cx="362.5" cy="320.1" r="1.62"/><circle cx="366.1" cy="320.5" r="1.62"/><circle cx="370.0" cy="320.7" r="1.62"/><circle cx="373.8" cy="320.6" r="1.62"/><circle cx="377.6" cy="320.1" r="1.62"/><circle cx="382.0" cy="320.2" r="1.62"/><circle cx="385.8" cy="320.2" r="1.62"/><circle cx="330.1" cy="322.3" r="1.62"/><circle cx="334.5" cy="322.3" r="1.62"/><circle cx="338.3" cy="321.9" r="1.62"/><circle cx="342.0" cy="322.2" r="1.62"/><circle cx="345.7" cy="322.4" r="1.62"/><circle cx="349.3" cy="322.4" r="1.62"/><circle cx="353.5" cy="321.8" r="1.62"/><circle cx="356.6" cy="322.2" r="1.62"/><circle cx="361.2" cy="321.9" r="1.62"/><circle cx="364.5" cy="322.2" r="1.62"/><circle cx="368.2" cy="322.3" r="1.62"/><circle cx="372.3" cy="321.8" r="1.62"/><circle cx="376.0" cy="322.2" r="1.62"/><circle cx="379.8" cy="322.2" r="1.62"/><circle cx="383.3" cy="322.3" r="1.62"/><circle cx="387.4" cy="322.2" r="1.62"/><circle cx="328.7" cy="323.8" r="1.62"/><circle cx="332.3" cy="324.0" r="1.62"/><circle cx="336.6" cy="324.0" r="1.62"/><circle cx="340.1" cy="323.7" r="1.62"/><circle cx="343.4" cy="324.1" r="1.62"/><circle cx="347.8" cy="324.0" r="1.62"/><circle cx="351.2" cy="323.9" r="1.62"/><circle cx="355.7" cy="324.0" r="1.62"/><circle cx="359.1" cy="323.7" r="1.62"/><circle cx="362.7" cy="324.1" r="1.62"/><circle cx="366.5" cy="323.9" r="1.62"/><circle cx="370.5" cy="324.1" r="1.62"/><circle cx="374.5" cy="323.7" r="1.62"/><circle cx="377.5" cy="323.7" r="1.62"/><circle cx="381.7" cy="323.9" r="1.62"/><circle cx="385.9" cy="324.1" r="1.62"/><circle cx="330.0" cy="325.7" r="1.62"/><circle cx="334.6" cy="325.7" r="1.62"/><circle cx="338.2" cy="325.4" r="1.62"/><circle cx="342.3" cy="325.7" r="1.62"/><circle cx="345.9" cy="325.8" r="1.62"/><circle cx="349.3" cy="325.3" r="1.62"/><circle cx="353.4" cy="325.7" r="1.62"/><circle cx="356.8" cy="325.7" r="1.62"/><circle cx="361.3" cy="325.4" r="1.62"/><circle cx="364.8" cy="325.6" r="1.62"/><circle cx="368.5" cy="325.4" r="1.62"/><circle cx="372.1" cy="325.7" r="1.62"/><circle cx="376.4" cy="325.5" r="1.62"/><circle cx="379.5" cy="325.7" r="1.62"/><circle cx="384.0" cy="325.4" r="1.62"/><circle cx="387.6" cy="325.8" r="1.62"/><circle cx="329.0" cy="327.2" r="1.62"/><circle cx="332.4" cy="327.3" r="1.62"/><circle cx="335.9" cy="327.1" r="1.62"/><circle cx="339.7" cy="327.4" r="1.62"/><circle cx="343.7" cy="327.3" r="1.62"/><circle cx="347.5" cy="327.2" r="1.62"/><circle cx="351.0" cy="327.0" r="1.62"/><circle cx="355.7" cy="327.2" r="1.62"/><circle cx="358.6" cy="327.3" r="1.62"/><circle cx="363.1" cy="327.0" r="1.62"/><circle cx="366.7" cy="327.1" r="1.62"/><circle cx="370.4" cy="326.9" r="1.62"/><circle cx="373.7" cy="327.5" r="1.62"/><circle cx="378.4" cy="327.2" r="1.62"/><circle cx="381.9" cy="327.1" r="1.62"/><circle cx="385.9" cy="327.2" r="1.62"/><circle cx="330.9" cy="329.1" r="1.62"/><circle cx="334.6" cy="329.2" r="1.62"/><circle cx="337.9" cy="328.7" r="1.62"/><circle cx="341.6" cy="328.8" r="1.62"/><circle cx="345.3" cy="328.7" r="1.62"/><circle cx="349.6" cy="329.2" r="1.62"/><circle cx="353.3" cy="329.2" r="1.62"/><circle cx="357.5" cy="328.7" r="1.62"/><circle cx="361.0" cy="328.9" r="1.62"/><circle cx="364.3" cy="329.2" r="1.62"/><circle cx="368.3" cy="329.0" r="1.62"/><circle cx="372.4" cy="329.2" r="1.62"/><circle cx="376.3" cy="328.9" r="1.62"/><circle cx="379.8" cy="328.7" r="1.62"/><circle cx="384.2" cy="329.2" r="1.62"/><circle cx="387.2" cy="328.7" r="1.62"/><circle cx="328.4" cy="330.6" r="1.62"/><circle cx="332.8" cy="330.9" r="1.62"/><circle cx="336.5" cy="330.4" r="1.62"/><circle cx="340.3" cy="330.8" r="1.62"/><circle cx="343.9" cy="330.9" r="1.62"/><circle cx="347.2" cy="330.4" r="1.62"/><circle cx="351.7" cy="330.9" r="1.62"/><circle cx="355.4" cy="330.5" r="1.62"/><circle cx="359.1" cy="330.8" r="1.62"/><circle cx="362.4" cy="330.5" r="1.62"/><circle cx="366.4" cy="330.4" r="1.62"/><circle cx="370.4" cy="330.5" r="1.62"/><circle cx="373.9" cy="330.4" r="1.62"/><circle cx="378.2" cy="330.4" r="1.62"/><circle cx="382.0" cy="330.5" r="1.62"/><circle cx="385.1" cy="330.9" r="1.62"/><circle cx="330.2" cy="332.6" r="1.62"/><circle cx="334.7" cy="332.6" r="1.62"/><circle cx="337.7" cy="332.3" r="1.62"/><circle cx="341.5" cy="332.6" r="1.62"/><circle cx="346.0" cy="332.4" r="1.62"/><circle cx="349.5" cy="332.3" r="1.62"/><circle cx="353.6" cy="332.4" r="1.62"/><circle cx="357.2" cy="332.1" r="1.62"/><circle cx="360.6" cy="332.1" r="1.62"/><circle cx="364.9" cy="332.4" r="1.62"/><circle cx="368.1" cy="332.6" r="1.62"/><circle cx="372.1" cy="332.3" r="1.62"/><circle cx="375.8" cy="332.2" r="1.62"/><circle cx="380.2" cy="332.3" r="1.62"/><circle cx="383.4" cy="332.4" r="1.62"/><circle cx="387.3" cy="332.6" r="1.62"/><circle cx="328.2" cy="334.4" r="1.62"/><circle cx="332.0" cy="334.3" r="1.62"/><circle cx="336.4" cy="333.9" r="1.62"/><circle cx="340.0" cy="333.9" r="1.62"/><circle cx="343.6" cy="333.9" r="1.62"/><circle cx="347.5" cy="334.4" r="1.62"/><circle cx="351.9" cy="334.3" r="1.62"/><circle cx="354.8" cy="333.9" r="1.62"/><circle cx="359.4" cy="333.8" r="1.62"/><circle cx="363.0" cy="333.9" r="1.62"/><circle cx="367.1" cy="333.8" r="1.62"/><circle cx="370.7" cy="334.0" r="1.62"/><circle cx="373.8" cy="333.8" r="1.62"/><circle cx="378.3" cy="334.1" r="1.62"/><circle cx="381.5" cy="334.0" r="1.62"/><circle cx="386.0" cy="333.9" r="1.62"/><circle cx="330.6" cy="335.6" r="1.62"/><circle cx="334.0" cy="335.9" r="1.62"/><circle cx="338.3" cy="335.6" r="1.62"/><circle cx="341.5" cy="335.5" r="1.62"/><circle cx="345.8" cy="335.8" r="1.62"/><circle cx="349.3" cy="335.6" r="1.62"/><circle cx="353.4" cy="335.9" r="1.62"/><circle cx="357.4" cy="335.8" r="1.62"/><circle cx="360.6" cy="335.5" r="1.62"/><circle cx="364.9" cy="335.7" r="1.62"/><circle cx="368.7" cy="335.5" r="1.62"/><circle cx="372.6" cy="335.7" r="1.62"/><circle cx="376.4" cy="336.0" r="1.62"/><circle cx="379.9" cy="335.5" r="1.62"/><circle cx="384.1" cy="335.8" r="1.62"/><circle cx="387.9" cy="335.6" r="1.62"/><circle cx="328.3" cy="337.7" r="1.62"/><circle cx="332.3" cy="337.3" r="1.62"/><circle cx="336.1" cy="337.5" r="1.62"/><circle cx="339.5" cy="337.5" r="1.62"/><circle cx="343.7" cy="337.5" r="1.62"/><circle cx="347.2" cy="337.6" r="1.62"/><circle cx="351.7" cy="337.7" r="1.62"/><circle cx="355.0" cy="337.6" r="1.62"/><circle cx="358.9" cy="337.6" r="1.62"/><circle cx="362.4" cy="337.7" r="1.62"/><circle cx="367.1" cy="337.5" r="1.62"/><circle cx="370.4" cy="337.5" r="1.62"/><circle cx="374.2" cy="337.2" r="1.62"/><circle cx="378.5" cy="337.3" r="1.62"/><circle cx="381.5" cy="337.3" r="1.62"/><circle cx="385.4" cy="337.7" r="1.62"/><circle cx="330.0" cy="339.0" r="1.62"/><circle cx="334.5" cy="339.0" r="1.62"/><circle cx="337.6" cy="339.3" r="1.62"/><circle cx="342.0" cy="339.2" r="1.62"/><circle cx="345.9" cy="339.0" r="1.62"/><circle cx="349.9" cy="339.3" r="1.62"/><circle cx="352.8" cy="339.0" r="1.62"/><circle cx="357.1" cy="339.2" r="1.62"/><circle cx="360.7" cy="339.0" r="1.62"/><circle cx="364.6" cy="339.0" r="1.62"/><circle cx="368.6" cy="339.4" r="1.62"/><circle cx="371.9" cy="339.2" r="1.62"/><circle cx="376.3" cy="339.0" r="1.62"/><circle cx="380.2" cy="339.5" r="1.62"/><circle cx="383.6" cy="339.2" r="1.62"/><circle cx="387.8" cy="339.2" r="1.62"/></g><g fill="#666666"><circle cx="102.7" cy="48.8" r="1.38"/><circle cx="99.2" cy="66.6" r="1.38"/><circle cx="103.2" cy="66.6" r="1.38"/><circle cx="103.0" cy="70.8" r="1.38"/><circle cx="103.0" cy="78.2" r="1.38"/><circle cx="103.0" cy="88.2" r="1.38"/><circle cx="99.1" cy="94.8" r="1.38"/><circle cx="102.9" cy="96.5" r="1.38"/><circle cx="99.1" cy="99.4" r="1.38"/><circle cx="106.6" cy="99.4" r="1.38"/><circle cx="110.3" cy="99.0" r="1.38"/><circle cx="102.9" cy="101.3" r="1.38"/><circle cx="117.7" cy="101.9" r="1.38"/><circle cx="121.5" cy="101.9" r="1.38"/><circle cx="80.1" cy="102.3" r="1.38"/><circle cx="84.0" cy="102.3" r="1.38"/><circle cx="87.8" cy="102.3" r="1.38"/><circle cx="91.7" cy="102.3" r="1.38"/><circle cx="95.4" cy="103.6" r="1.38"/><circle cx="99.2" cy="103.6" r="1.38"/><circle cx="103.0" cy="103.6" r="1.38"/><circle cx="106.8" cy="103.6" r="1.38"/><circle cx="110.6" cy="103.6" r="1.38"/><circle cx="114.4" cy="103.6" r="1.38"/><circle cx="97.3" cy="105.6" r="1.38"/><circle cx="101.1" cy="105.6" r="1.38"/><circle cx="104.9" cy="105.6" r="1.38"/><circle cx="108.7" cy="105.6" r="1.38"/><circle cx="112.5" cy="105.6" r="1.38"/><circle cx="101.1" cy="108.6" r="1.38"/><circle cx="104.9" cy="108.6" r="1.38"/><circle cx="76.0" cy="110.2" r="1.38"/><circle cx="79.9" cy="110.2" r="1.38"/><circle cx="83.7" cy="110.2" r="1.38"/><circle cx="87.6" cy="110.2" r="1.38"/><circle cx="91.4" cy="110.2" r="1.38"/><circle cx="95.3" cy="110.2" r="1.38"/><circle cx="99.2" cy="110.2" r="1.38"/><circle cx="103.0" cy="110.2" r="1.38"/><circle cx="106.9" cy="110.2" r="1.38"/><circle cx="110.8" cy="110.2" r="1.38"/><circle cx="114.6" cy="110.2" r="1.38"/><circle cx="118.5" cy="110.2" r="1.38"/><circle cx="122.3" cy="110.2" r="1.38"/><circle cx="126.2" cy="110.2" r="1.38"/><circle cx="89.3" cy="112.0" r="1.38"/><circle cx="92.9" cy="112.0" r="1.38"/><circle cx="96.5" cy="112.0" r="1.38"/><circle cx="100.0" cy="112.0" r="1.38"/><circle cx="103.6" cy="112.0" r="1.38"/><circle cx="107.2" cy="112.0" r="1.38"/><circle cx="110.8" cy="112.0" r="1.38"/><circle cx="114.3" cy="112.0" r="1.38"/><circle cx="117.9" cy="112.0" r="1.38"/><circle cx="83.5" cy="144.3" r="1.38"/><circle cx="87.4" cy="144.3" r="1.38"/><circle cx="91.3" cy="144.3" r="1.38"/><circle cx="95.2" cy="144.3" r="1.38"/><circle cx="99.1" cy="144.3" r="1.38"/><circle cx="103.0" cy="144.3" r="1.38"/><circle cx="107.0" cy="144.3" r="1.38"/><circle cx="110.9" cy="144.3" r="1.38"/><circle cx="114.8" cy="144.3" r="1.38"/><circle cx="118.7" cy="144.3" r="1.38"/><circle cx="122.6" cy="144.3" r="1.38"/><circle cx="126.5" cy="144.3" r="1.38"/><circle cx="358.5" cy="56.9" r="1.38"/><circle cx="358.5" cy="70.3" r="1.38"/><circle cx="354.6" cy="78.2" r="1.38"/><circle cx="358.5" cy="79.4" r="1.38"/><circle cx="358.5" cy="86.2" r="1.38"/><circle cx="350.9" cy="91.8" r="1.38"/><circle cx="362.3" cy="93.1" r="1.38"/><circle cx="354.6" cy="94.9" r="1.38"/><circle cx="358.5" cy="94.9" r="1.38"/><circle cx="362.3" cy="96.5" r="1.38"/><circle cx="350.9" cy="98.9" r="1.38"/><circle cx="358.5" cy="98.0" r="1.38"/><circle cx="362.3" cy="99.8" r="1.38"/><circle cx="354.6" cy="100.8" r="1.38"/><circle cx="358.5" cy="102.0" r="1.38"/><circle cx="350.9" cy="103.5" r="1.38"/><circle cx="354.6" cy="103.5" r="1.38"/><circle cx="358.5" cy="105.5" r="1.38"/><circle cx="362.3" cy="105.5" r="1.38"/><circle cx="366.1" cy="104.0" r="1.38"/><circle cx="343.3" cy="108.5" r="1.38"/><circle cx="373.7" cy="108.5" r="1.38"/><circle cx="339.4" cy="109.8" r="1.38"/><circle cx="343.2" cy="109.8" r="1.38"/><circle cx="347.0" cy="109.8" r="1.38"/><circle cx="350.9" cy="109.8" r="1.38"/><circle cx="354.7" cy="109.8" r="1.38"/><circle cx="358.5" cy="109.8" r="1.38"/><circle cx="362.3" cy="109.8" r="1.38"/><circle cx="366.1" cy="109.8" r="1.38"/><circle cx="370.0" cy="109.8" r="1.38"/><circle cx="373.8" cy="109.8" r="1.38"/><circle cx="377.6" cy="109.8" r="1.38"/><circle cx="329.5" cy="113.5" r="1.38"/><circle cx="333.4" cy="113.5" r="1.38"/><circle cx="337.3" cy="113.5" r="1.38"/><circle cx="341.2" cy="113.5" r="1.38"/><circle cx="345.1" cy="113.5" r="1.38"/><circle cx="348.9" cy="113.5" r="1.38"/><circle cx="352.8" cy="113.5" r="1.38"/><circle cx="356.7" cy="113.5" r="1.38"/><circle cx="360.6" cy="113.5" r="1.38"/><circle cx="364.5" cy="113.5" r="1.38"/><circle cx="368.4" cy="113.5" r="1.38"/><circle cx="372.3" cy="113.5" r="1.38"/><circle cx="376.1" cy="113.5" r="1.38"/><circle cx="380.0" cy="113.5" r="1.38"/><circle cx="383.9" cy="113.5" r="1.38"/><circle cx="387.8" cy="113.5" r="1.38"/><circle cx="391.7" cy="113.5" r="1.38"/><circle cx="327.6" cy="117.3" r="1.38"/><circle cx="331.5" cy="117.3" r="1.38"/><circle cx="335.4" cy="117.3" r="1.38"/><circle cx="339.3" cy="117.3" r="1.38"/><circle cx="343.2" cy="117.3" r="1.38"/><circle cx="347.0" cy="117.3" r="1.38"/><circle cx="350.9" cy="117.3" r="1.38"/><circle cx="354.8" cy="117.3" r="1.38"/><circle cx="358.7" cy="117.3" r="1.38"/><circle cx="362.6" cy="117.3" r="1.38"/><circle cx="366.5" cy="117.3" r="1.38"/><circle cx="370.4" cy="117.3" r="1.38"/><circle cx="374.2" cy="117.3" r="1.38"/><circle cx="378.1" cy="117.3" r="1.38"/><circle cx="382.0" cy="117.3" r="1.38"/><circle cx="385.9" cy="117.3" r="1.38"/><circle cx="389.8" cy="117.3" r="1.38"/><circle cx="325.7" cy="120.9" r="1.38"/><circle cx="329.6" cy="120.9" r="1.38"/><circle cx="333.5" cy="120.9" r="1.38"/><circle cx="337.4" cy="120.9" r="1.38"/><circle cx="341.3" cy="120.9" r="1.38"/><circle cx="345.1" cy="120.9" r="1.38"/><circle cx="349.0" cy="120.9" r="1.38"/><circle cx="352.9" cy="120.9" r="1.38"/><circle cx="356.8" cy="120.9" r="1.38"/><circle cx="360.7" cy="120.9" r="1.38"/><circle cx="364.6" cy="120.9" r="1.38"/><circle cx="368.5" cy="120.9" r="1.38"/><circle cx="372.4" cy="120.9" r="1.38"/><circle cx="376.2" cy="120.9" r="1.38"/><circle cx="380.1" cy="120.9" r="1.38"/><circle cx="384.0" cy="120.9" r="1.38"/><circle cx="387.9" cy="120.9" r="1.38"/><circle cx="107.3" cy="247.7" r="1.38"/><circle cx="103.5" cy="250.8" r="1.38"/><circle cx="107.3" cy="251.5" r="1.38"/><circle cx="99.6" cy="252.8" r="1.38"/><circle cx="107.3" cy="254.2" r="1.38"/><circle cx="103.5" cy="255.6" r="1.38"/><circle cx="103.5" cy="259.7" r="1.38"/><circle cx="99.6" cy="267.5" r="1.38"/><circle cx="103.5" cy="266.5" r="1.38"/><circle cx="103.6" cy="271.4" r="1.38"/><circle cx="107.5" cy="271.4" r="1.38"/><circle cx="92.2" cy="274.8" r="1.38"/><circle cx="110.8" cy="274.8" r="1.38"/><circle cx="96.0" cy="276.3" r="1.38"/><circle cx="99.8" cy="276.3" r="1.38"/><circle cx="103.6" cy="276.3" r="1.38"/><circle cx="107.5" cy="276.3" r="1.38"/><circle cx="101.7" cy="278.4" r="1.38"/><circle cx="105.5" cy="278.4" r="1.38"/><circle cx="111.2" cy="278.4" r="1.38"/><circle cx="103.6" cy="280.3" r="1.38"/><circle cx="107.5" cy="280.3" r="1.38"/><circle cx="88.5" cy="283.2" r="1.38"/><circle cx="114.6" cy="283.2" r="1.38"/><circle cx="92.2" cy="284.6" r="1.38"/><circle cx="96.0" cy="284.6" r="1.38"/><circle cx="99.8" cy="284.6" r="1.38"/><circle cx="103.6" cy="284.6" r="1.38"/><circle cx="107.5" cy="284.6" r="1.38"/><circle cx="111.2" cy="284.6" r="1.38"/><circle cx="94.1" cy="287.7" r="1.38"/><circle cx="97.9" cy="287.7" r="1.38"/><circle cx="101.7" cy="287.7" r="1.38"/><circle cx="105.5" cy="287.7" r="1.38"/><circle cx="109.3" cy="287.7" r="1.38"/><circle cx="113.1" cy="287.7" r="1.38"/><circle cx="116.9" cy="287.7" r="1.38"/><circle cx="99.8" cy="290.8" r="1.38"/><circle cx="103.6" cy="290.8" r="1.38"/><circle cx="107.5" cy="290.8" r="1.38"/><circle cx="111.2" cy="290.8" r="1.38"/><circle cx="76.5" cy="292.5" r="1.38"/><circle cx="80.3" cy="292.5" r="1.38"/><circle cx="84.2" cy="292.5" r="1.38"/><circle cx="118.4" cy="292.5" r="1.38"/><circle cx="122.3" cy="292.5" r="1.38"/><circle cx="126.1" cy="292.5" r="1.38"/><circle cx="130.0" cy="292.5" r="1.38"/><circle cx="76.5" cy="294.4" r="1.38"/><circle cx="80.3" cy="294.4" r="1.38"/><circle cx="84.1" cy="294.4" r="1.38"/><circle cx="88.0" cy="294.4" r="1.38"/><circle cx="91.8" cy="294.4" r="1.38"/><circle cx="95.6" cy="294.4" r="1.38"/><circle cx="99.4" cy="294.4" r="1.38"/><circle cx="103.2" cy="294.4" r="1.38"/><circle cx="107.1" cy="294.4" r="1.38"/><circle cx="110.9" cy="294.4" r="1.38"/><circle cx="114.7" cy="294.4" r="1.38"/><circle cx="118.5" cy="294.4" r="1.38"/><circle cx="122.4" cy="294.4" r="1.38"/><circle cx="126.2" cy="294.4" r="1.38"/><circle cx="130.0" cy="294.4" r="1.38"/><circle cx="72.8" cy="297.0" r="1.38"/><circle cx="76.6" cy="297.0" r="1.38"/><circle cx="80.3" cy="297.0" r="1.38"/><circle cx="84.1" cy="297.0" r="1.38"/><circle cx="87.9" cy="297.0" r="1.38"/><circle cx="91.6" cy="297.0" r="1.38"/><circle cx="95.4" cy="297.0" r="1.38"/><circle cx="99.2" cy="297.0" r="1.38"/><circle cx="102.9" cy="297.0" r="1.38"/><circle cx="106.7" cy="297.0" r="1.38"/><circle cx="110.5" cy="297.0" r="1.38"/><circle cx="114.3" cy="297.0" r="1.38"/><circle cx="118.0" cy="297.0" r="1.38"/><circle cx="121.8" cy="297.0" r="1.38"/><circle cx="125.6" cy="297.0" r="1.38"/><circle cx="129.3" cy="297.0" r="1.38"/><circle cx="133.1" cy="297.0" r="1.38"/><circle cx="74.7" cy="299.1" r="1.38"/><circle cx="78.5" cy="299.1" r="1.38"/><circle cx="82.2" cy="299.1" r="1.38"/><circle cx="86.0" cy="299.1" r="1.38"/><circle cx="89.8" cy="299.1" r="1.38"/><circle cx="93.5" cy="299.1" r="1.38"/><circle cx="97.3" cy="299.1" r="1.38"/><circle cx="101.1" cy="299.1" r="1.38"/><circle cx="104.8" cy="299.1" r="1.38"/><circle cx="108.6" cy="299.1" r="1.38"/><circle cx="112.4" cy="299.1" r="1.38"/><circle cx="116.1" cy="299.1" r="1.38"/><circle cx="119.9" cy="299.1" r="1.38"/><circle cx="123.7" cy="299.1" r="1.38"/><circle cx="127.4" cy="299.1" r="1.38"/><circle cx="131.2" cy="299.1" r="1.38"/><circle cx="72.8" cy="301.2" r="1.38"/><circle cx="76.6" cy="301.2" r="1.38"/><circle cx="80.3" cy="301.2" r="1.38"/><circle cx="84.1" cy="301.2" r="1.38"/><circle cx="87.9" cy="301.2" r="1.38"/><circle cx="91.6" cy="301.2" r="1.38"/><circle cx="95.4" cy="301.2" r="1.38"/><circle cx="99.2" cy="301.2" r="1.38"/><circle cx="102.9" cy="301.2" r="1.38"/><circle cx="106.7" cy="301.2" r="1.38"/><circle cx="110.5" cy="301.2" r="1.38"/><circle cx="114.3" cy="301.2" r="1.38"/><circle cx="118.0" cy="301.2" r="1.38"/><circle cx="121.8" cy="301.2" r="1.38"/><circle cx="125.6" cy="301.2" r="1.38"/><circle cx="129.3" cy="301.2" r="1.38"/><circle cx="133.1" cy="301.2" r="1.38"/><circle cx="74.7" cy="303.2" r="1.38"/><circle cx="78.5" cy="303.2" r="1.38"/><circle cx="82.2" cy="303.2" r="1.38"/><circle cx="86.0" cy="303.2" r="1.38"/><circle cx="89.8" cy="303.2" r="1.38"/><circle cx="93.5" cy="303.2" r="1.38"/><circle cx="97.3" cy="303.2" r="1.38"/><circle cx="101.1" cy="303.2" r="1.38"/><circle cx="104.8" cy="303.2" r="1.38"/><circle cx="108.6" cy="303.2" r="1.38"/><circle cx="112.4" cy="303.2" r="1.38"/><circle cx="116.1" cy="303.2" r="1.38"/><circle cx="119.9" cy="303.2" r="1.38"/><circle cx="123.7" cy="303.2" r="1.38"/><circle cx="127.4" cy="303.2" r="1.38"/><circle cx="131.2" cy="303.2" r="1.38"/><circle cx="355.0" cy="285.0" r="1.38"/><circle cx="359.0" cy="285.0" r="1.38"/><circle cx="358.8" cy="289.9" r="1.38"/><circle cx="347.7" cy="307.3" r="1.38"/><circle cx="370.0" cy="307.3" r="1.38"/><circle cx="328.5" cy="314.2" r="1.38"/><circle cx="332.3" cy="314.2" r="1.38"/><circle cx="385.5" cy="314.2" r="1.38"/><circle cx="389.3" cy="314.2" r="1.38"/><circle cx="328.5" cy="317.0" r="1.38"/><circle cx="389.3" cy="317.0" r="1.38"/><circle cx="351.7" cy="298.1" r="1.38"/><circle cx="355.4" cy="298.1" r="1.38"/><circle cx="359.1" cy="298.1" r="1.38"/><circle cx="362.8" cy="298.1" r="1.38"/><circle cx="366.5" cy="298.1" r="1.38"/><circle cx="349.6" cy="304.2" r="1.38"/><circle cx="353.3" cy="304.2" r="1.38"/><circle cx="357.0" cy="304.2" r="1.38"/><circle cx="360.8" cy="304.2" r="1.38"/><circle cx="364.5" cy="304.2" r="1.38"/><circle cx="368.2" cy="304.2" r="1.38"/><circle cx="371.9" cy="304.2" r="1.38"/><circle cx="351.5" cy="307.3" r="1.38"/><circle cx="355.2" cy="307.3" r="1.38"/><circle cx="359.0" cy="307.3" r="1.38"/><circle cx="362.8" cy="307.3" r="1.38"/><circle cx="366.5" cy="307.3" r="1.38"/><circle cx="345.8" cy="311.2" r="1.38"/><circle cx="349.6" cy="311.2" r="1.38"/><circle cx="353.3" cy="311.2" r="1.38"/><circle cx="357.1" cy="311.2" r="1.38"/><circle cx="360.8" cy="311.2" r="1.38"/><circle cx="364.6" cy="311.2" r="1.38"/><circle cx="355.0" cy="312.7" r="1.38"/><circle cx="359.0" cy="312.7" r="1.38"/><circle cx="363.0" cy="312.7" r="1.38"/><circle cx="337.4" cy="315.8" r="1.38"/><circle cx="341.3" cy="315.8" r="1.38"/><circle cx="345.1" cy="315.8" r="1.38"/><circle cx="349.0" cy="315.8" r="1.38"/><circle cx="352.9" cy="315.8" r="1.38"/><circle cx="356.8" cy="315.8" r="1.38"/><circle cx="360.6" cy="315.8" r="1.38"/><circle cx="364.5" cy="315.8" r="1.38"/><circle cx="368.4" cy="315.8" r="1.38"/><circle cx="372.3" cy="315.8" r="1.38"/><circle cx="376.1" cy="315.8" r="1.38"/><circle cx="380.0" cy="315.8" r="1.38"/><circle cx="383.9" cy="315.8" r="1.38"/><circle cx="328.0" cy="318.6" r="1.38"/><circle cx="331.9" cy="318.6" r="1.38"/><circle cx="335.8" cy="318.6" r="1.38"/><circle cx="339.6" cy="318.6" r="1.38"/><circle cx="343.5" cy="318.6" r="1.38"/><circle cx="347.4" cy="318.6" r="1.38"/><circle cx="351.2" cy="318.6" r="1.38"/><circle cx="355.1" cy="318.6" r="1.38"/><circle cx="359.0" cy="318.6" r="1.38"/><circle cx="362.9" cy="318.6" r="1.38"/><circle cx="366.8" cy="318.6" r="1.38"/><circle cx="370.6" cy="318.6" r="1.38"/><circle cx="374.5" cy="318.6" r="1.38"/><circle cx="378.4" cy="318.6" r="1.38"/><circle cx="382.2" cy="318.6" r="1.38"/><circle cx="386.1" cy="318.6" r="1.38"/><circle cx="390.0" cy="318.6" r="1.38"/></g><g fill="#6c6c6c"><rect x="195.9" y="102.5" width="2.5" height="2.5"/><rect x="199.8" y="100.8" width="2.5" height="2.5"/><rect x="203.8" y="103.5" width="2.5" height="2.5"/><rect x="207.6" y="101.5" width="2.5" height="2.5"/><rect x="199.8" y="104.8" width="2.5" height="2.5"/><rect x="195.9" y="108.8" width="2.5" height="2.5"/><rect x="199.8" y="108.8" width="2.5" height="2.5"/><rect x="199.8" y="113.0" width="2.5" height="2.5"/><rect x="199.8" y="117.0" width="2.5" height="2.5"/><rect x="203.8" y="119.0" width="2.5" height="2.5"/><rect x="199.8" y="121.0" width="2.5" height="2.5"/><rect x="192.2" y="122.0" width="2.5" height="2.5"/><rect x="207.6" y="122.0" width="2.5" height="2.5"/><rect x="195.9" y="124.0" width="2.5" height="2.5"/><rect x="203.8" y="124.0" width="2.5" height="2.5"/><rect x="199.8" y="125.2" width="2.5" height="2.5"/><rect x="188.2" y="127.9" width="2.5" height="2.5"/><rect x="192.2" y="127.9" width="2.5" height="2.5"/><rect x="211.3" y="127.9" width="2.5" height="2.5"/><rect x="215.2" y="127.9" width="2.5" height="2.5"/><rect x="195.9" y="129.3" width="2.5" height="2.5"/><rect x="199.8" y="129.3" width="2.5" height="2.5"/><rect x="203.8" y="129.3" width="2.5" height="2.5"/><rect x="207.6" y="129.3" width="2.5" height="2.5"/><rect x="169.3" y="131.1" width="2.5" height="2.5"/><rect x="173.2" y="131.1" width="2.5" height="2.5"/><rect x="176.9" y="131.1" width="2.5" height="2.5"/><rect x="180.8" y="131.1" width="2.5" height="2.5"/><rect x="184.6" y="131.1" width="2.5" height="2.5"/><rect x="188.3" y="131.1" width="2.5" height="2.5"/><rect x="192.2" y="131.1" width="2.5" height="2.5"/><rect x="195.9" y="131.1" width="2.5" height="2.5"/><rect x="199.8" y="131.1" width="2.5" height="2.5"/><rect x="203.6" y="131.1" width="2.5" height="2.5"/><rect x="207.3" y="131.1" width="2.5" height="2.5"/><rect x="211.2" y="131.1" width="2.5" height="2.5"/><rect x="214.9" y="131.1" width="2.5" height="2.5"/><rect x="218.8" y="131.1" width="2.5" height="2.5"/><rect x="222.6" y="131.1" width="2.5" height="2.5"/><rect x="226.4" y="131.1" width="2.5" height="2.5"/><rect x="230.2" y="131.1" width="2.5" height="2.5"/><rect x="169.3" y="136.2" width="2.5" height="2.5"/><rect x="173.2" y="136.2" width="2.5" height="2.5"/><rect x="176.9" y="136.2" width="2.5" height="2.5"/><rect x="180.8" y="136.2" width="2.5" height="2.5"/><rect x="184.6" y="136.2" width="2.5" height="2.5"/><rect x="188.3" y="136.2" width="2.5" height="2.5"/><rect x="192.2" y="136.2" width="2.5" height="2.5"/><rect x="195.9" y="136.2" width="2.5" height="2.5"/><rect x="199.8" y="136.2" width="2.5" height="2.5"/><rect x="203.6" y="136.2" width="2.5" height="2.5"/><rect x="207.3" y="136.2" width="2.5" height="2.5"/><rect x="211.2" y="136.2" width="2.5" height="2.5"/><rect x="214.9" y="136.2" width="2.5" height="2.5"/><rect x="218.8" y="136.2" width="2.5" height="2.5"/><rect x="222.6" y="136.2" width="2.5" height="2.5"/><rect x="226.4" y="136.2" width="2.5" height="2.5"/><rect x="230.2" y="136.2" width="2.5" height="2.5"/><rect x="186.4" y="137.2" width="2.5" height="2.5"/><rect x="190.2" y="137.2" width="2.5" height="2.5"/><rect x="194.0" y="137.2" width="2.5" height="2.5"/><rect x="197.8" y="137.2" width="2.5" height="2.5"/><rect x="201.7" y="137.2" width="2.5" height="2.5"/><rect x="205.5" y="137.2" width="2.5" height="2.5"/><rect x="209.2" y="137.2" width="2.5" height="2.5"/><rect x="213.1" y="137.2" width="2.5" height="2.5"/><rect x="173.2" y="138.2" width="2.5" height="2.5"/><rect x="177.0" y="138.2" width="2.5" height="2.5"/><rect x="180.8" y="138.2" width="2.5" height="2.5"/><rect x="184.6" y="138.2" width="2.5" height="2.5"/><rect x="188.3" y="138.2" width="2.5" height="2.5"/><rect x="192.2" y="138.2" width="2.5" height="2.5"/><rect x="195.9" y="138.2" width="2.5" height="2.5"/><rect x="199.8" y="138.2" width="2.5" height="2.5"/><rect x="203.6" y="138.2" width="2.5" height="2.5"/><rect x="207.3" y="138.2" width="2.5" height="2.5"/><rect x="211.2" y="138.2" width="2.5" height="2.5"/><rect x="214.9" y="138.2" width="2.5" height="2.5"/><rect x="218.8" y="138.2" width="2.5" height="2.5"/><rect x="222.6" y="138.2" width="2.5" height="2.5"/><rect x="226.3" y="138.2" width="2.5" height="2.5"/><rect x="186.4" y="139.2" width="2.5" height="2.5"/><rect x="190.2" y="139.2" width="2.5" height="2.5"/><rect x="194.0" y="139.2" width="2.5" height="2.5"/><rect x="197.8" y="139.2" width="2.5" height="2.5"/><rect x="201.7" y="139.2" width="2.5" height="2.5"/><rect x="205.5" y="139.2" width="2.5" height="2.5"/><rect x="209.2" y="139.2" width="2.5" height="2.5"/><rect x="213.1" y="139.2" width="2.5" height="2.5"/><rect x="169.3" y="140.1" width="2.5" height="2.5"/><rect x="173.2" y="140.1" width="2.5" height="2.5"/><rect x="176.9" y="140.1" width="2.5" height="2.5"/><rect x="180.8" y="140.1" width="2.5" height="2.5"/><rect x="184.6" y="140.1" width="2.5" height="2.5"/><rect x="188.3" y="140.1" width="2.5" height="2.5"/><rect x="192.2" y="140.1" width="2.5" height="2.5"/><rect x="195.9" y="140.1" width="2.5" height="2.5"/><rect x="199.8" y="140.1" width="2.5" height="2.5"/><rect x="203.6" y="140.1" width="2.5" height="2.5"/><rect x="207.3" y="140.1" width="2.5" height="2.5"/><rect x="211.2" y="140.1" width="2.5" height="2.5"/><rect x="214.9" y="140.1" width="2.5" height="2.5"/><rect x="218.8" y="140.1" width="2.5" height="2.5"/><rect x="222.6" y="140.1" width="2.5" height="2.5"/><rect x="226.4" y="140.1" width="2.5" height="2.5"/><rect x="230.2" y="140.1" width="2.5" height="2.5"/><rect x="186.4" y="141.1" width="2.5" height="2.5"/><rect x="190.2" y="141.1" width="2.5" height="2.5"/><rect x="194.0" y="141.1" width="2.5" height="2.5"/><rect x="197.8" y="141.1" width="2.5" height="2.5"/><rect x="201.7" y="141.1" width="2.5" height="2.5"/><rect x="205.5" y="141.1" width="2.5" height="2.5"/><rect x="209.2" y="141.1" width="2.5" height="2.5"/><rect x="213.1" y="141.1" width="2.5" height="2.5"/><rect x="173.2" y="142.1" width="2.5" height="2.5"/><rect x="177.0" y="142.1" width="2.5" height="2.5"/><rect x="180.8" y="142.1" width="2.5" height="2.5"/><rect x="184.6" y="142.1" width="2.5" height="2.5"/><rect x="188.3" y="142.1" width="2.5" height="2.5"/><rect x="192.2" y="142.1" width="2.5" height="2.5"/><rect x="195.9" y="142.1" width="2.5" height="2.5"/><rect x="199.8" y="142.1" width="2.5" height="2.5"/><rect x="203.6" y="142.1" width="2.5" height="2.5"/><rect x="207.3" y="142.1" width="2.5" height="2.5"/><rect x="211.2" y="142.1" width="2.5" height="2.5"/><rect x="214.9" y="142.1" width="2.5" height="2.5"/><rect x="218.8" y="142.1" width="2.5" height="2.5"/><rect x="222.6" y="142.1" width="2.5" height="2.5"/><rect x="226.3" y="142.1" width="2.5" height="2.5"/><rect x="195.9" y="144.6" width="2.5" height="2.5"/><rect x="199.8" y="144.6" width="2.5" height="2.5"/><rect x="203.8" y="144.6" width="2.5" height="2.5"/><rect x="454.9" y="99.2" width="2.5" height="2.5"/><rect x="447.6" y="103.2" width="2.5" height="2.5"/><rect x="462.6" y="103.2" width="2.5" height="2.5"/><rect x="451.4" y="105.2" width="2.5" height="2.5"/><rect x="458.9" y="105.2" width="2.5" height="2.5"/><rect x="454.9" y="107.0" width="2.5" height="2.5"/><rect x="462.6" y="109.5" width="2.5" height="2.5"/><rect x="451.1" y="112.0" width="2.5" height="2.5"/><rect x="454.9" y="112.0" width="2.5" height="2.5"/><rect x="458.9" y="112.0" width="2.5" height="2.5"/><rect x="443.2" y="113.8" width="2.5" height="2.5"/><rect x="462.6" y="113.8" width="2.5" height="2.5"/><rect x="446.9" y="115.3" width="2.5" height="2.5"/><rect x="450.9" y="115.3" width="2.5" height="2.5"/><rect x="454.9" y="115.5" width="2.5" height="2.5"/><rect x="458.9" y="115.3" width="2.5" height="2.5"/><rect x="477.6" y="117.8" width="2.5" height="2.5"/><rect x="432.1" y="118.2" width="2.5" height="2.5"/><rect x="435.9" y="118.2" width="2.5" height="2.5"/><rect x="439.7" y="118.2" width="2.5" height="2.5"/><rect x="443.5" y="118.2" width="2.5" height="2.5"/><rect x="447.4" y="118.2" width="2.5" height="2.5"/><rect x="451.2" y="118.2" width="2.5" height="2.5"/><rect x="455.0" y="118.2" width="2.5" height="2.5"/><rect x="458.8" y="118.2" width="2.5" height="2.5"/><rect x="462.7" y="118.2" width="2.5" height="2.5"/><rect x="466.5" y="118.2" width="2.5" height="2.5"/><rect x="470.3" y="118.2" width="2.5" height="2.5"/><rect x="474.1" y="118.2" width="2.5" height="2.5"/><rect x="437.8" y="120.3" width="2.5" height="2.5"/><rect x="441.6" y="120.3" width="2.5" height="2.5"/><rect x="445.4" y="120.3" width="2.5" height="2.5"/><rect x="449.2" y="120.3" width="2.5" height="2.5"/><rect x="453.1" y="120.3" width="2.5" height="2.5"/><rect x="456.9" y="120.3" width="2.5" height="2.5"/><rect x="460.8" y="120.3" width="2.5" height="2.5"/><rect x="464.6" y="120.3" width="2.5" height="2.5"/><rect x="468.4" y="120.3" width="2.5" height="2.5"/><rect x="472.2" y="120.3" width="2.5" height="2.5"/><rect x="432.1" y="123.0" width="2.5" height="2.5"/><rect x="435.9" y="123.0" width="2.5" height="2.5"/><rect x="439.7" y="123.0" width="2.5" height="2.5"/><rect x="443.5" y="123.0" width="2.5" height="2.5"/><rect x="447.4" y="123.0" width="2.5" height="2.5"/><rect x="451.2" y="123.0" width="2.5" height="2.5"/><rect x="455.0" y="123.0" width="2.5" height="2.5"/><rect x="458.8" y="123.0" width="2.5" height="2.5"/><rect x="462.7" y="123.0" width="2.5" height="2.5"/><rect x="466.5" y="123.0" width="2.5" height="2.5"/><rect x="470.3" y="123.0" width="2.5" height="2.5"/><rect x="474.1" y="123.0" width="2.5" height="2.5"/><rect x="426.4" y="126.0" width="2.5" height="2.5"/><rect x="430.2" y="126.0" width="2.5" height="2.5"/><rect x="434.0" y="126.0" width="2.5" height="2.5"/><rect x="437.8" y="126.0" width="2.5" height="2.5"/><rect x="441.6" y="126.0" width="2.5" height="2.5"/><rect x="445.4" y="126.0" width="2.5" height="2.5"/><rect x="449.2" y="126.0" width="2.5" height="2.5"/><rect x="453.0" y="126.0" width="2.5" height="2.5"/><rect x="456.9" y="126.0" width="2.5" height="2.5"/><rect x="460.7" y="126.0" width="2.5" height="2.5"/><rect x="464.5" y="126.0" width="2.5" height="2.5"/><rect x="468.3" y="126.0" width="2.5" height="2.5"/><rect x="472.1" y="126.0" width="2.5" height="2.5"/><rect x="475.9" y="126.0" width="2.5" height="2.5"/><rect x="479.7" y="126.0" width="2.5" height="2.5"/><rect x="483.6" y="126.0" width="2.5" height="2.5"/><rect x="445.4" y="131.3" width="2.5" height="2.5"/><rect x="449.2" y="131.3" width="2.5" height="2.5"/><rect x="453.0" y="131.3" width="2.5" height="2.5"/><rect x="456.8" y="131.3" width="2.5" height="2.5"/><rect x="460.6" y="131.3" width="2.5" height="2.5"/><rect x="464.4" y="131.3" width="2.5" height="2.5"/><rect x="426.3" y="131.8" width="2.5" height="2.5"/><rect x="430.2" y="131.8" width="2.5" height="2.5"/><rect x="434.0" y="131.8" width="2.5" height="2.5"/><rect x="437.8" y="131.8" width="2.5" height="2.5"/><rect x="441.6" y="131.8" width="2.5" height="2.5"/><rect x="445.4" y="131.8" width="2.5" height="2.5"/><rect x="449.2" y="131.8" width="2.5" height="2.5"/><rect x="453.0" y="131.8" width="2.5" height="2.5"/><rect x="456.8" y="131.8" width="2.5" height="2.5"/><rect x="460.7" y="131.8" width="2.5" height="2.5"/><rect x="464.5" y="131.8" width="2.5" height="2.5"/><rect x="468.3" y="131.8" width="2.5" height="2.5"/><rect x="472.1" y="131.8" width="2.5" height="2.5"/><rect x="475.9" y="131.8" width="2.5" height="2.5"/><rect x="479.7" y="131.8" width="2.5" height="2.5"/><rect x="483.5" y="131.8" width="2.5" height="2.5"/><rect x="487.3" y="131.8" width="2.5" height="2.5"/><rect x="445.4" y="133.2" width="2.5" height="2.5"/><rect x="449.2" y="133.2" width="2.5" height="2.5"/><rect x="453.0" y="133.2" width="2.5" height="2.5"/><rect x="456.8" y="133.2" width="2.5" height="2.5"/><rect x="460.6" y="133.2" width="2.5" height="2.5"/><rect x="464.4" y="133.2" width="2.5" height="2.5"/><rect x="422.6" y="134.1" width="2.5" height="2.5"/><rect x="426.4" y="134.1" width="2.5" height="2.5"/><rect x="430.2" y="134.1" width="2.5" height="2.5"/><rect x="434.0" y="134.1" width="2.5" height="2.5"/><rect x="437.8" y="134.1" width="2.5" height="2.5"/><rect x="441.6" y="134.1" width="2.5" height="2.5"/><rect x="445.4" y="134.1" width="2.5" height="2.5"/><rect x="449.2" y="134.1" width="2.5" height="2.5"/><rect x="453.1" y="134.1" width="2.5" height="2.5"/><rect x="456.9" y="134.1" width="2.5" height="2.5"/><rect x="460.7" y="134.1" width="2.5" height="2.5"/><rect x="464.5" y="134.1" width="2.5" height="2.5"/><rect x="468.3" y="134.1" width="2.5" height="2.5"/><rect x="472.1" y="134.1" width="2.5" height="2.5"/><rect x="475.9" y="134.1" width="2.5" height="2.5"/><rect x="479.7" y="134.1" width="2.5" height="2.5"/><rect x="483.6" y="134.1" width="2.5" height="2.5"/><rect x="445.4" y="135.1" width="2.5" height="2.5"/><rect x="449.2" y="135.1" width="2.5" height="2.5"/><rect x="453.0" y="135.1" width="2.5" height="2.5"/><rect x="456.8" y="135.1" width="2.5" height="2.5"/><rect x="460.6" y="135.1" width="2.5" height="2.5"/><rect x="464.4" y="135.1" width="2.5" height="2.5"/><rect x="430.1" y="136.2" width="2.5" height="2.5"/><rect x="434.0" y="136.2" width="2.5" height="2.5"/><rect x="437.8" y="136.2" width="2.5" height="2.5"/><rect x="441.6" y="136.2" width="2.5" height="2.5"/><rect x="445.4" y="136.2" width="2.5" height="2.5"/><rect x="449.2" y="136.2" width="2.5" height="2.5"/><rect x="453.0" y="136.2" width="2.5" height="2.5"/><rect x="456.8" y="136.2" width="2.5" height="2.5"/><rect x="460.7" y="136.2" width="2.5" height="2.5"/><rect x="464.5" y="136.2" width="2.5" height="2.5"/><rect x="468.3" y="136.2" width="2.5" height="2.5"/><rect x="472.1" y="136.2" width="2.5" height="2.5"/><rect x="475.9" y="136.2" width="2.5" height="2.5"/><rect x="479.7" y="136.2" width="2.5" height="2.5"/><rect x="483.5" y="136.2" width="2.5" height="2.5"/><rect x="432.1" y="138.3" width="2.5" height="2.5"/><rect x="435.9" y="138.3" width="2.5" height="2.5"/><rect x="439.7" y="138.3" width="2.5" height="2.5"/><rect x="443.5" y="138.3" width="2.5" height="2.5"/><rect x="447.3" y="138.3" width="2.5" height="2.5"/><rect x="451.1" y="138.3" width="2.5" height="2.5"/><rect x="455.0" y="138.3" width="2.5" height="2.5"/><rect x="458.8" y="138.3" width="2.5" height="2.5"/><rect x="462.6" y="138.3" width="2.5" height="2.5"/><rect x="466.4" y="138.3" width="2.5" height="2.5"/><rect x="470.2" y="138.3" width="2.5" height="2.5"/><rect x="474.0" y="138.3" width="2.5" height="2.5"/><rect x="477.9" y="138.3" width="2.5" height="2.5"/><rect x="437.8" y="140.4" width="2.5" height="2.5"/><rect x="441.6" y="140.4" width="2.5" height="2.5"/><rect x="445.4" y="140.4" width="2.5" height="2.5"/><rect x="449.2" y="140.4" width="2.5" height="2.5"/><rect x="453.0" y="140.4" width="2.5" height="2.5"/><rect x="456.9" y="140.4" width="2.5" height="2.5"/><rect x="460.7" y="140.4" width="2.5" height="2.5"/><rect x="464.5" y="140.4" width="2.5" height="2.5"/><rect x="468.3" y="140.4" width="2.5" height="2.5"/><rect x="472.2" y="140.4" width="2.5" height="2.5"/><rect x="454.9" y="143.3" width="2.5" height="2.5"/><rect x="199.9" y="253.8" width="2.5" height="2.5"/><rect x="199.9" y="266.8" width="2.5" height="2.5"/><rect x="199.9" y="273.9" width="2.5" height="2.5"/><rect x="199.9" y="282.6" width="2.5" height="2.5"/><rect x="203.6" y="281.9" width="2.5" height="2.5"/><rect x="196.3" y="286.6" width="2.5" height="2.5"/><rect x="199.9" y="288.9" width="2.5" height="2.5"/><rect x="192.6" y="291.1" width="2.5" height="2.5"/><rect x="196.3" y="291.9" width="2.5" height="2.5"/><rect x="199.9" y="292.8" width="2.5" height="2.5"/><rect x="203.8" y="291.9" width="2.5" height="2.5"/><rect x="207.6" y="291.1" width="2.5" height="2.5"/><rect x="188.8" y="299.4" width="2.5" height="2.5"/><rect x="192.6" y="299.4" width="2.5" height="2.5"/><rect x="207.6" y="299.4" width="2.5" height="2.5"/><rect x="211.2" y="299.4" width="2.5" height="2.5"/><rect x="196.3" y="301.1" width="2.5" height="2.5"/><rect x="199.9" y="301.1" width="2.5" height="2.5"/><rect x="203.8" y="301.1" width="2.5" height="2.5"/><rect x="184.9" y="303.1" width="2.5" height="2.5"/><rect x="188.7" y="303.1" width="2.5" height="2.5"/><rect x="192.4" y="303.1" width="2.5" height="2.5"/><rect x="196.2" y="303.1" width="2.5" height="2.5"/><rect x="199.9" y="303.1" width="2.5" height="2.5"/><rect x="203.7" y="303.1" width="2.5" height="2.5"/><rect x="207.4" y="303.1" width="2.5" height="2.5"/><rect x="211.2" y="303.1" width="2.5" height="2.5"/><rect x="214.9" y="303.1" width="2.5" height="2.5"/><rect x="192.6" y="306.1" width="2.5" height="2.5"/><rect x="196.3" y="306.1" width="2.5" height="2.5"/><rect x="200.1" y="306.1" width="2.5" height="2.5"/><rect x="203.8" y="306.1" width="2.5" height="2.5"/><rect x="207.6" y="306.1" width="2.5" height="2.5"/><rect x="177.1" y="308.4" width="2.5" height="2.5"/><rect x="181.0" y="308.4" width="2.5" height="2.5"/><rect x="184.8" y="308.4" width="2.5" height="2.5"/><rect x="188.8" y="308.4" width="2.5" height="2.5"/><rect x="211.2" y="308.4" width="2.5" height="2.5"/><rect x="215.0" y="308.4" width="2.5" height="2.5"/><rect x="218.8" y="308.4" width="2.5" height="2.5"/><rect x="222.6" y="308.4" width="2.5" height="2.5"/><rect x="186.8" y="311.1" width="2.5" height="2.5"/><rect x="190.5" y="311.1" width="2.5" height="2.5"/><rect x="194.2" y="311.1" width="2.5" height="2.5"/><rect x="198.0" y="311.1" width="2.5" height="2.5"/><rect x="201.7" y="311.1" width="2.5" height="2.5"/><rect x="205.5" y="311.1" width="2.5" height="2.5"/><rect x="209.2" y="311.1" width="2.5" height="2.5"/><rect x="212.9" y="311.1" width="2.5" height="2.5"/><rect x="170.7" y="312.9" width="2.5" height="2.5"/><rect x="174.5" y="312.9" width="2.5" height="2.5"/><rect x="178.4" y="312.9" width="2.5" height="2.5"/><rect x="182.2" y="312.9" width="2.5" height="2.5"/><rect x="186.1" y="312.9" width="2.5" height="2.5"/><rect x="190.0" y="312.9" width="2.5" height="2.5"/><rect x="193.8" y="312.9" width="2.5" height="2.5"/><rect x="197.7" y="312.9" width="2.5" height="2.5"/><rect x="201.6" y="312.9" width="2.5" height="2.5"/><rect x="205.4" y="312.9" width="2.5" height="2.5"/><rect x="209.3" y="312.9" width="2.5" height="2.5"/><rect x="213.2" y="312.9" width="2.5" height="2.5"/><rect x="217.1" y="312.9" width="2.5" height="2.5"/><rect x="220.9" y="312.9" width="2.5" height="2.5"/><rect x="224.8" y="312.9" width="2.5" height="2.5"/><rect x="228.7" y="312.9" width="2.5" height="2.5"/><rect x="169.8" y="317.9" width="2.5" height="2.5"/><rect x="173.5" y="317.9" width="2.5" height="2.5"/><rect x="177.2" y="317.9" width="2.5" height="2.5"/><rect x="181.0" y="317.9" width="2.5" height="2.5"/><rect x="184.8" y="317.9" width="2.5" height="2.5"/><rect x="188.5" y="317.9" width="2.5" height="2.5"/><rect x="192.2" y="317.9" width="2.5" height="2.5"/><rect x="196.0" y="317.9" width="2.5" height="2.5"/><rect x="199.8" y="317.9" width="2.5" height="2.5"/><rect x="203.5" y="317.9" width="2.5" height="2.5"/><rect x="207.2" y="317.9" width="2.5" height="2.5"/><rect x="211.0" y="317.9" width="2.5" height="2.5"/><rect x="214.8" y="317.9" width="2.5" height="2.5"/><rect x="218.5" y="317.9" width="2.5" height="2.5"/><rect x="222.2" y="317.9" width="2.5" height="2.5"/><rect x="226.0" y="317.9" width="2.5" height="2.5"/><rect x="229.8" y="317.9" width="2.5" height="2.5"/><rect x="173.6" y="320.1" width="2.5" height="2.5"/><rect x="177.3" y="320.1" width="2.5" height="2.5"/><rect x="181.0" y="320.1" width="2.5" height="2.5"/><rect x="184.8" y="320.1" width="2.5" height="2.5"/><rect x="188.5" y="320.1" width="2.5" height="2.5"/><rect x="192.3" y="320.1" width="2.5" height="2.5"/><rect x="196.0" y="320.1" width="2.5" height="2.5"/><rect x="199.8" y="320.1" width="2.5" height="2.5"/><rect x="203.5" y="320.1" width="2.5" height="2.5"/><rect x="207.2" y="320.1" width="2.5" height="2.5"/><rect x="211.0" y="320.1" width="2.5" height="2.5"/><rect x="214.7" y="320.1" width="2.5" height="2.5"/><rect x="218.5" y="320.1" width="2.5" height="2.5"/><rect x="222.2" y="320.1" width="2.5" height="2.5"/><rect x="225.9" y="320.1" width="2.5" height="2.5"/><rect x="169.8" y="322.9" width="2.5" height="2.5"/><rect x="173.5" y="322.9" width="2.5" height="2.5"/><rect x="177.2" y="322.9" width="2.5" height="2.5"/><rect x="181.0" y="322.9" width="2.5" height="2.5"/><rect x="184.8" y="322.9" width="2.5" height="2.5"/><rect x="188.5" y="322.9" width="2.5" height="2.5"/><rect x="192.2" y="322.9" width="2.5" height="2.5"/><rect x="196.0" y="322.9" width="2.5" height="2.5"/><rect x="199.8" y="322.9" width="2.5" height="2.5"/><rect x="203.5" y="322.9" width="2.5" height="2.5"/><rect x="207.2" y="322.9" width="2.5" height="2.5"/><rect x="211.0" y="322.9" width="2.5" height="2.5"/><rect x="214.8" y="322.9" width="2.5" height="2.5"/><rect x="218.5" y="322.9" width="2.5" height="2.5"/><rect x="222.2" y="322.9" width="2.5" height="2.5"/><rect x="226.0" y="322.9" width="2.5" height="2.5"/><rect x="229.8" y="322.9" width="2.5" height="2.5"/><rect x="173.6" y="325.6" width="2.5" height="2.5"/><rect x="177.3" y="325.6" width="2.5" height="2.5"/><rect x="181.0" y="325.6" width="2.5" height="2.5"/><rect x="184.8" y="325.6" width="2.5" height="2.5"/><rect x="188.5" y="325.6" width="2.5" height="2.5"/><rect x="192.3" y="325.6" width="2.5" height="2.5"/><rect x="196.0" y="325.6" width="2.5" height="2.5"/><rect x="199.8" y="325.6" width="2.5" height="2.5"/><rect x="203.5" y="325.6" width="2.5" height="2.5"/><rect x="207.2" y="325.6" width="2.5" height="2.5"/><rect x="211.0" y="325.6" width="2.5" height="2.5"/><rect x="214.7" y="325.6" width="2.5" height="2.5"/><rect x="218.5" y="325.6" width="2.5" height="2.5"/><rect x="222.2" y="325.6" width="2.5" height="2.5"/><rect x="225.9" y="325.6" width="2.5" height="2.5"/><rect x="177.3" y="328.2" width="2.5" height="2.5"/><rect x="181.1" y="328.2" width="2.5" height="2.5"/><rect x="184.8" y="328.2" width="2.5" height="2.5"/><rect x="188.6" y="328.2" width="2.5" height="2.5"/><rect x="192.3" y="328.2" width="2.5" height="2.5"/><rect x="196.0" y="328.2" width="2.5" height="2.5"/><rect x="199.8" y="328.2" width="2.5" height="2.5"/><rect x="203.5" y="328.2" width="2.5" height="2.5"/><rect x="207.2" y="328.2" width="2.5" height="2.5"/><rect x="210.9" y="328.2" width="2.5" height="2.5"/><rect x="214.7" y="328.2" width="2.5" height="2.5"/><rect x="218.4" y="328.2" width="2.5" height="2.5"/><rect x="222.2" y="328.2" width="2.5" height="2.5"/><rect x="181.2" y="330.9" width="2.5" height="2.5"/><rect x="184.9" y="330.9" width="2.5" height="2.5"/><rect x="188.6" y="330.9" width="2.5" height="2.5"/><rect x="192.3" y="330.9" width="2.5" height="2.5"/><rect x="196.0" y="330.9" width="2.5" height="2.5"/><rect x="199.8" y="330.9" width="2.5" height="2.5"/><rect x="203.5" y="330.9" width="2.5" height="2.5"/><rect x="207.2" y="330.9" width="2.5" height="2.5"/><rect x="210.9" y="330.9" width="2.5" height="2.5"/><rect x="214.6" y="330.9" width="2.5" height="2.5"/><rect x="218.3" y="330.9" width="2.5" height="2.5"/><rect x="184.9" y="333.4" width="2.5" height="2.5"/><rect x="188.7" y="333.4" width="2.5" height="2.5"/><rect x="192.4" y="333.4" width="2.5" height="2.5"/><rect x="196.2" y="333.4" width="2.5" height="2.5"/><rect x="199.9" y="333.4" width="2.5" height="2.5"/><rect x="203.7" y="333.4" width="2.5" height="2.5"/><rect x="207.4" y="333.4" width="2.5" height="2.5"/><rect x="211.2" y="333.4" width="2.5" height="2.5"/><rect x="214.9" y="333.4" width="2.5" height="2.5"/><rect x="199.9" y="336.4" width="2.5" height="2.5"/><rect x="189.3" y="317.1" width="2.5" height="2.5"/><rect x="192.9" y="317.1" width="2.5" height="2.5"/><rect x="196.4" y="317.1" width="2.5" height="2.5"/><rect x="199.9" y="317.1" width="2.5" height="2.5"/><rect x="203.5" y="317.1" width="2.5" height="2.5"/><rect x="207.0" y="317.1" width="2.5" height="2.5"/><rect x="210.6" y="317.1" width="2.5" height="2.5"/><rect x="187.4" y="319.1" width="2.5" height="2.5"/><rect x="191.0" y="319.1" width="2.5" height="2.5"/><rect x="194.6" y="319.1" width="2.5" height="2.5"/><rect x="198.2" y="319.1" width="2.5" height="2.5"/><rect x="201.7" y="319.1" width="2.5" height="2.5"/><rect x="205.3" y="319.1" width="2.5" height="2.5"/><rect x="208.9" y="319.1" width="2.5" height="2.5"/><rect x="212.4" y="319.1" width="2.5" height="2.5"/><rect x="189.3" y="321.4" width="2.5" height="2.5"/><rect x="192.9" y="321.4" width="2.5" height="2.5"/><rect x="196.4" y="321.4" width="2.5" height="2.5"/><rect x="199.9" y="321.4" width="2.5" height="2.5"/><rect x="203.5" y="321.4" width="2.5" height="2.5"/><rect x="207.0" y="321.4" width="2.5" height="2.5"/><rect x="210.6" y="321.4" width="2.5" height="2.5"/><rect x="191.2" y="324.1" width="2.5" height="2.5"/><rect x="194.7" y="324.1" width="2.5" height="2.5"/><rect x="198.2" y="324.1" width="2.5" height="2.5"/><rect x="201.7" y="324.1" width="2.5" height="2.5"/><rect x="205.2" y="324.1" width="2.5" height="2.5"/><rect x="208.7" y="324.1" width="2.5" height="2.5"/><rect x="455.6" y="254.6" width="2.5" height="2.5"/><rect x="455.6" y="281.2" width="2.5" height="2.5"/><rect x="455.6" y="297.4" width="2.5" height="2.5"/><rect x="451.6" y="311.8" width="2.5" height="2.5"/><rect x="463.2" y="311.8" width="2.5" height="2.5"/><rect x="448.1" y="314.4" width="2.5" height="2.5"/><rect x="455.6" y="314.4" width="2.5" height="2.5"/><rect x="459.4" y="314.4" width="2.5" height="2.5"/><rect x="463.2" y="314.4" width="2.5" height="2.5"/><rect x="451.8" y="316.9" width="2.5" height="2.5"/><rect x="459.4" y="316.9" width="2.5" height="2.5"/><rect x="455.6" y="318.6" width="2.5" height="2.5"/><rect x="467.1" y="320.4" width="2.5" height="2.5"/><rect x="429.2" y="324.1" width="2.5" height="2.5"/><rect x="433.1" y="324.1" width="2.5" height="2.5"/><rect x="474.4" y="324.1" width="2.5" height="2.5"/><rect x="478.1" y="324.1" width="2.5" height="2.5"/><rect x="448.1" y="322.9" width="2.5" height="2.5"/><rect x="451.9" y="322.9" width="2.5" height="2.5"/><rect x="455.6" y="322.9" width="2.5" height="2.5"/><rect x="459.4" y="322.9" width="2.5" height="2.5"/><rect x="463.2" y="322.9" width="2.5" height="2.5"/><rect x="438.6" y="326.1" width="2.5" height="2.5"/><rect x="442.4" y="326.1" width="2.5" height="2.5"/><rect x="446.2" y="326.1" width="2.5" height="2.5"/><rect x="450.0" y="326.1" width="2.5" height="2.5"/><rect x="453.8" y="326.1" width="2.5" height="2.5"/><rect x="457.5" y="326.1" width="2.5" height="2.5"/><rect x="461.3" y="326.1" width="2.5" height="2.5"/><rect x="465.1" y="326.1" width="2.5" height="2.5"/><rect x="468.9" y="326.1" width="2.5" height="2.5"/><rect x="472.6" y="326.1" width="2.5" height="2.5"/><rect x="444.2" y="327.9" width="2.5" height="2.5"/><rect x="448.0" y="327.9" width="2.5" height="2.5"/><rect x="451.8" y="327.9" width="2.5" height="2.5"/><rect x="455.5" y="327.9" width="2.5" height="2.5"/><rect x="459.2" y="327.9" width="2.5" height="2.5"/><rect x="463.0" y="327.9" width="2.5" height="2.5"/><rect x="466.8" y="327.9" width="2.5" height="2.5"/><rect x="423.6" y="328.8" width="2.5" height="2.5"/><rect x="427.3" y="328.8" width="2.5" height="2.5"/><rect x="431.1" y="328.8" width="2.5" height="2.5"/><rect x="434.9" y="328.8" width="2.5" height="2.5"/><rect x="438.6" y="328.8" width="2.5" height="2.5"/><rect x="442.4" y="328.8" width="2.5" height="2.5"/><rect x="446.2" y="328.8" width="2.5" height="2.5"/><rect x="449.9" y="328.8" width="2.5" height="2.5"/><rect x="453.7" y="328.8" width="2.5" height="2.5"/><rect x="457.5" y="328.8" width="2.5" height="2.5"/><rect x="461.2" y="328.8" width="2.5" height="2.5"/><rect x="465.0" y="328.8" width="2.5" height="2.5"/><rect x="468.8" y="328.8" width="2.5" height="2.5"/><rect x="472.5" y="328.8" width="2.5" height="2.5"/><rect x="476.3" y="328.8" width="2.5" height="2.5"/><rect x="480.1" y="328.8" width="2.5" height="2.5"/><rect x="483.9" y="328.8" width="2.5" height="2.5"/><rect x="425.4" y="332.1" width="2.5" height="2.5"/><rect x="429.2" y="332.1" width="2.5" height="2.5"/><rect x="433.0" y="332.1" width="2.5" height="2.5"/><rect x="436.8" y="332.1" width="2.5" height="2.5"/><rect x="440.5" y="332.1" width="2.5" height="2.5"/><rect x="444.3" y="332.1" width="2.5" height="2.5"/><rect x="448.1" y="332.1" width="2.5" height="2.5"/><rect x="451.8" y="332.1" width="2.5" height="2.5"/><rect x="455.6" y="332.1" width="2.5" height="2.5"/><rect x="459.4" y="332.1" width="2.5" height="2.5"/><rect x="463.1" y="332.1" width="2.5" height="2.5"/><rect x="466.9" y="332.1" width="2.5" height="2.5"/><rect x="470.7" y="332.1" width="2.5" height="2.5"/><rect x="474.4" y="332.1" width="2.5" height="2.5"/><rect x="478.2" y="332.1" width="2.5" height="2.5"/><rect x="482.0" y="332.1" width="2.5" height="2.5"/><rect x="485.8" y="332.1" width="2.5" height="2.5"/><rect x="427.3" y="333.8" width="2.5" height="2.5"/><rect x="431.1" y="333.8" width="2.5" height="2.5"/><rect x="434.9" y="333.8" width="2.5" height="2.5"/><rect x="438.7" y="333.8" width="2.5" height="2.5"/><rect x="442.4" y="333.8" width="2.5" height="2.5"/><rect x="446.2" y="333.8" width="2.5" height="2.5"/><rect x="450.0" y="333.8" width="2.5" height="2.5"/><rect x="453.7" y="333.8" width="2.5" height="2.5"/><rect x="457.5" y="333.8" width="2.5" height="2.5"/><rect x="461.3" y="333.8" width="2.5" height="2.5"/><rect x="465.0" y="333.8" width="2.5" height="2.5"/><rect x="468.8" y="333.8" width="2.5" height="2.5"/><rect x="472.6" y="333.8" width="2.5" height="2.5"/><rect x="476.3" y="333.8" width="2.5" height="2.5"/><rect x="480.1" y="333.8" width="2.5" height="2.5"/><rect x="483.9" y="333.8" width="2.5" height="2.5"/><rect x="487.6" y="333.8" width="2.5" height="2.5"/><rect x="425.4" y="335.4" width="2.5" height="2.5"/><rect x="429.2" y="335.4" width="2.5" height="2.5"/><rect x="433.0" y="335.4" width="2.5" height="2.5"/><rect x="436.8" y="335.4" width="2.5" height="2.5"/><rect x="440.5" y="335.4" width="2.5" height="2.5"/><rect x="444.3" y="335.4" width="2.5" height="2.5"/><rect x="448.1" y="335.4" width="2.5" height="2.5"/><rect x="451.8" y="335.4" width="2.5" height="2.5"/><rect x="455.6" y="335.4" width="2.5" height="2.5"/><rect x="459.4" y="335.4" width="2.5" height="2.5"/><rect x="463.1" y="335.4" width="2.5" height="2.5"/><rect x="466.9" y="335.4" width="2.5" height="2.5"/><rect x="470.7" y="335.4" width="2.5" height="2.5"/><rect x="474.4" y="335.4" width="2.5" height="2.5"/><rect x="478.2" y="335.4" width="2.5" height="2.5"/><rect x="482.0" y="335.4" width="2.5" height="2.5"/><rect x="485.8" y="335.4" width="2.5" height="2.5"/><rect x="427.4" y="336.9" width="2.5" height="2.5"/><rect x="431.1" y="336.9" width="2.5" height="2.5"/><rect x="434.9" y="336.9" width="2.5" height="2.5"/><rect x="438.6" y="336.9" width="2.5" height="2.5"/><rect x="442.4" y="336.9" width="2.5" height="2.5"/><rect x="446.2" y="336.9" width="2.5" height="2.5"/><rect x="449.9" y="336.9" width="2.5" height="2.5"/><rect x="453.7" y="336.9" width="2.5" height="2.5"/><rect x="457.5" y="336.9" width="2.5" height="2.5"/><rect x="461.2" y="336.9" width="2.5" height="2.5"/><rect x="465.0" y="336.9" width="2.5" height="2.5"/><rect x="468.8" y="336.9" width="2.5" height="2.5"/><rect x="472.5" y="336.9" width="2.5" height="2.5"/><rect x="476.3" y="336.9" width="2.5" height="2.5"/><rect x="480.1" y="336.9" width="2.5" height="2.5"/><rect x="433.1" y="338.4" width="2.5" height="2.5"/><rect x="436.8" y="338.4" width="2.5" height="2.5"/><rect x="440.6" y="338.4" width="2.5" height="2.5"/><rect x="444.3" y="338.4" width="2.5" height="2.5"/><rect x="448.1" y="338.4" width="2.5" height="2.5"/><rect x="451.8" y="338.4" width="2.5" height="2.5"/><rect x="455.6" y="338.4" width="2.5" height="2.5"/><rect x="459.4" y="338.4" width="2.5" height="2.5"/><rect x="463.1" y="338.4" width="2.5" height="2.5"/><rect x="466.9" y="338.4" width="2.5" height="2.5"/><rect x="470.6" y="338.4" width="2.5" height="2.5"/><rect x="474.4" y="338.4" width="2.5" height="2.5"/><rect x="478.1" y="338.4" width="2.5" height="2.5"/></g>
<defs>
<filter id="bb" x="-50%" y="-50%" width="200%" height="200%"><feGaussianBlur stdDeviation="5"/></filter><filter id="bl" x="-50%" y="-50%" width="200%" height="200%"><feGaussianBlur stdDeviation="6"/></filter><filter id="bm" x="-50%" y="-50%" width="200%" height="200%"><feGaussianBlur stdDeviation="3.5"/></filter><filter id="bs" x="-50%" y="-50%" width="200%" height="200%"><feGaussianBlur stdDeviation="1.8"/></filter>
<clipPath id="cb0"><rect x="55.5" y="419.8" width="135.0" height="143.3"/></clipPath>
<filter id="fd0" filterUnits="userSpaceOnUse" x="45.5" y="409.8" width="155.0" height="163.3" color-interpolation-filters="sRGB">
<feGaussianBlur in="SourceGraphic" stdDeviation="1.2" result="b"/>
<feTurbulence type="fractalNoise" baseFrequency="0.95" numOctaves="2" seed="11" result="n0"/>
<feColorMatrix in="n0" type="matrix" values="-1 0 0 0 1  -1 0 0 0 1  -1 0 0 0 1  0 0 0 0 1" result="n"/>
<feComposite in="b" in2="n" operator="arithmetic" k1="0" k2="1" k3="1" k4="-0.5" result="d"/>
<feColorMatrix in="d" type="matrix" values="0 0 0 0 0  0 0 0 0 0  0 0 0 0 0  5.0 0 0 0 -2.0"/>
</filter>
<filter id="fl0" filterUnits="userSpaceOnUse" x="45.5" y="409.8" width="155.0" height="163.3" color-interpolation-filters="sRGB">
<feGaussianBlur in="SourceGraphic" stdDeviation="0.6" result="b"/>
<feTurbulence type="fractalNoise" baseFrequency="0.95" numOctaves="2" seed="31" result="n0"/>
<feColorMatrix in="n0" type="matrix" values="-1 0 0 0 1  -1 0 0 0 1  -1 0 0 0 1  0 0 0 0 1" result="n"/>
<feComposite in="b" in2="n" operator="arithmetic" k1="0" k2="1" k3="1" k4="-0.5" result="d"/>
<feColorMatrix in="d" type="matrix" values="0 0 0 0 0  0 0 0 0 0  0 0 0 0 0  5.0 0 0 0 -2.0" result="mask"/>
<feTurbulence type="fractalNoise" baseFrequency="0.6" numOctaves="2" seed="81" result="m0"/>
<feColorMatrix in="m0" type="matrix" values="0.9 0 0 0 0.48  0.9 0 0 0 0.48  0.9 0 0 0 0.48  0 0 0 0 1" result="col"/>
<feComposite in="col" in2="mask" operator="in"/>
</filter>
<clipPath id="cb1"><rect x="220.6" y="419.8" width="134.9" height="143.3"/></clipPath>
<filter id="fd1" filterUnits="userSpaceOnUse" x="210.6" y="409.8" width="154.9" height="163.3" color-interpolation-filters="sRGB">
<feGaussianBlur in="SourceGraphic" stdDeviation="1.2" result="b"/>
<feTurbulence type="fractalNoise" baseFrequency="0.95" numOctaves="2" seed="12" result="n0"/>
<feColorMatrix in="n0" type="matrix" values="-1 0 0 0 1  -1 0 0 0 1  -1 0 0 0 1  0 0 0 0 1" result="n"/>
<feComposite in="b" in2="n" operator="arithmetic" k1="0" k2="1" k3="1" k4="-0.5" result="d"/>
<feColorMatrix in="d" type="matrix" values="0 0 0 0 0  0 0 0 0 0  0 0 0 0 0  5.0 0 0 0 -2.0"/>
</filter>
<filter id="fl1" filterUnits="userSpaceOnUse" x="210.6" y="409.8" width="154.9" height="163.3" color-interpolation-filters="sRGB">
<feGaussianBlur in="SourceGraphic" stdDeviation="0.6" result="b"/>
<feTurbulence type="fractalNoise" baseFrequency="0.95" numOctaves="2" seed="32" result="n0"/>
<feColorMatrix in="n0" type="matrix" values="-1 0 0 0 1  -1 0 0 0 1  -1 0 0 0 1  0 0 0 0 1" result="n"/>
<feComposite in="b" in2="n" operator="arithmetic" k1="0" k2="1" k3="1" k4="-0.5" result="d"/>
<feColorMatrix in="d" type="matrix" values="0 0 0 0 0  0 0 0 0 0  0 0 0 0 0  5.0 0 0 0 -2.0" result="mask"/>
<feTurbulence type="fractalNoise" baseFrequency="0.6" numOctaves="2" seed="82" result="m0"/>
<feColorMatrix in="m0" type="matrix" values="0.9 0 0 0 0.48  0.9 0 0 0 0.48  0.9 0 0 0 0.48  0 0 0 0 1" result="col"/>
<feComposite in="col" in2="mask" operator="in"/>
</filter>
<clipPath id="cb2"><rect x="383.5" y="419.8" width="135.29999999999995" height="143.3"/></clipPath>
<filter id="fd2" filterUnits="userSpaceOnUse" x="373.5" y="409.8" width="155.29999999999995" height="163.3" color-interpolation-filters="sRGB">
<feGaussianBlur in="SourceGraphic" stdDeviation="1.2" result="b"/>
<feTurbulence type="fractalNoise" baseFrequency="0.95" numOctaves="2" seed="13" result="n0"/>
<feColorMatrix in="n0" type="matrix" values="-1 0 0 0 1  -1 0 0 0 1  -1 0 0 0 1  0 0 0 0 1" result="n"/>
<feComposite in="b" in2="n" operator="arithmetic" k1="0" k2="1" k3="1" k4="-0.5" result="d"/>
<feColorMatrix in="d" type="matrix" values="0 0 0 0 0  0 0 0 0 0  0 0 0 0 0  5.0 0 0 0 -2.0"/>
</filter>
<filter id="fl2" filterUnits="userSpaceOnUse" x="373.5" y="409.8" width="155.29999999999995" height="163.3" color-interpolation-filters="sRGB">
<feGaussianBlur in="SourceGraphic" stdDeviation="0.6" result="b"/>
<feTurbulence type="fractalNoise" baseFrequency="0.95" numOctaves="2" seed="33" result="n0"/>
<feColorMatrix in="n0" type="matrix" values="-1 0 0 0 1  -1 0 0 0 1  -1 0 0 0 1  0 0 0 0 1" result="n"/>
<feComposite in="b" in2="n" operator="arithmetic" k1="0" k2="1" k3="1" k4="-0.5" result="d"/>
<feColorMatrix in="d" type="matrix" values="0 0 0 0 0  0 0 0 0 0  0 0 0 0 0  5.0 0 0 0 -2.0" result="mask"/>
<feTurbulence type="fractalNoise" baseFrequency="0.6" numOctaves="2" seed="83" result="m0"/>
<feColorMatrix in="m0" type="matrix" values="0.9 0 0 0 0.48  0.9 0 0 0 0.48  0.9 0 0 0 0.48  0 0 0 0 1" result="col"/>
<feComposite in="col" in2="mask" operator="in"/>
</filter>
</defs>
<g clip-path="url(#cb0)"><g filter="url(#fd0)"><rect x="45.5" y="409.8" width="155.0" height="163.3" fill="#000"/><rect x="40" y="470" width="170" height="45" fill="rgb(31,31,31)" filter="url(#bb)"/><rect x="50" y="484" width="150" height="8" fill="rgb(56,56,56)" filter="url(#bb)"/><rect x="40" y="498" width="130" height="16" fill="rgb(76,76,76)" filter="url(#bb)"/><rect x="150" y="500" width="24" height="70" fill="rgb(76,76,76)" filter="url(#bb)"/><path d="M50,513 L100,512 L125,511 Q130,505 142,505 Q158,507 159,520 L160,570 L50,570 Z" fill="rgb(139,139,139)"/><path d="M50,509 L100,508 L125,507 Q130,504 142,503 Q157,505 159,515 L159,520 L150,520 L140,512 L100,516 L50,517 Z" fill="rgb(166,166,166)" filter="url(#bs)"/><path d="M152,512 L158,514 L159,565 L153,565 Z" fill="rgb(153,153,153)" filter="url(#bs)"/><ellipse cx="142" cy="458" rx="16" ry="9" fill="rgb(69,69,69)" filter="url(#bb)"/><ellipse cx="142" cy="458" rx="10" ry="6" fill="rgb(102,102,102)" filter="url(#bs)"/></g>
<g filter="url(#fl0)"><rect x="45.5" y="409.8" width="155.0" height="163.3" fill="#000"/><ellipse cx="78" cy="531.5" rx="28" ry="18.5" fill="rgb(255,255,255)" filter="url(#bl)"/><ellipse cx="141" cy="535" rx="10.5" ry="21" fill="rgb(255,255,255)" filter="url(#bl)"/></g></g>
<g clip-path="url(#cb1)"><g filter="url(#fd1)"><rect x="210.6" y="409.8" width="154.9" height="163.3" fill="#000"/><rect x="250" y="445" width="110" height="75" fill="rgb(41,41,41)" filter="url(#bb)"/><ellipse cx="281" cy="484" rx="12" ry="26" fill="rgb(107,107,107)" filter="url(#bb)"/><rect x="318" y="500" width="20" height="70" fill="rgb(76,76,76)" filter="url(#bb)"/><ellipse cx="306" cy="480" rx="14" ry="26" fill="rgb(128,128,128)" transform="rotate(32 306 480)" filter="url(#bs)"/><ellipse cx="306" cy="480" rx="11" ry="22" fill="rgb(153,153,153)" transform="rotate(32 306 480)" filter="url(#bs)"/><path d="M215,512 L260,509 Q285,506 300,508 L322,508 Q328,512 327,525 L327,570 L215,570 Z" fill="rgb(139,139,139)"/><path d="M215,509 L260,506 Q285,504 300,506 L322,506 Q328,510 327,520 L318,520 L300,514 L260,515 L215,517 Z" fill="rgb(166,166,166)" filter="url(#bs)"/><rect x="300" y="498" width="12" height="14" fill="rgb(158,158,158)"/></g>
<g filter="url(#fl1)"><rect x="210.6" y="409.8" width="154.9" height="163.3" fill="#000"/><ellipse cx="307" cy="479.5" rx="7" ry="14" fill="rgb(255,255,255)" transform="rotate(32 307 479.5)" filter="url(#bm)"/><ellipse cx="244" cy="528" rx="30" ry="18" fill="rgb(255,255,255)" filter="url(#bl)"/><ellipse cx="310" cy="530" rx="12.5" ry="15.5" fill="rgb(242,242,242)" filter="url(#bl)"/></g></g>
<g clip-path="url(#cb2)"><g filter="url(#fd2)"><rect x="373.5" y="409.8" width="155.29999999999995" height="163.3" fill="#000"/><rect x="378" y="430" width="140" height="50" fill="rgb(31,31,31)" filter="url(#bb)"/><rect x="378" y="470" width="140" height="45" fill="rgb(31,31,31)" filter="url(#bb)"/><rect x="378" y="490" width="140" height="14" fill="rgb(51,51,51)" filter="url(#bb)"/><ellipse cx="446" cy="452" rx="10" ry="5" fill="rgb(92,92,92)" filter="url(#bb)"/><ellipse cx="472" cy="462" rx="16" ry="18" fill="rgb(92,92,92)" filter="url(#bb)"/><ellipse cx="479" cy="451" rx="9" ry="4.5" fill="rgb(163,163,163)" filter="url(#bs)"/><rect x="484" y="500" width="16" height="70" fill="rgb(76,76,76)" filter="url(#bb)"/><path d="M378,513 L420,511 Q450,508 462,508 Q488,506 490,520 L491,570 L378,570 Z" fill="rgb(139,139,139)"/><path d="M378,510 L420,508 Q450,505 462,505 Q488,503 490,515 L490,520 L475,514 L420,517 L378,518 Z" fill="rgb(166,166,166)" filter="url(#bs)"/><path d="M483,512 L489,514 L490,565 L484,565 Z" fill="rgb(153,153,153)" filter="url(#bs)"/></g>
<g filter="url(#fl2)"><rect x="373.5" y="409.8" width="155.29999999999995" height="163.3" fill="#000"/><ellipse cx="406" cy="531" rx="30" ry="20" fill="rgb(255,255,255)" filter="url(#bl)"/><ellipse cx="473.4" cy="535" rx="12" ry="21" fill="rgb(255,255,255)" filter="url(#bl)"/></g></g>
<line x1="53.60" y1="29.45" x2="53.60" y2="148.60" stroke="#000" stroke-width="1.6"/>
<line x1="49.40" y1="147.80" x2="53.60" y2="147.80" stroke="#000" stroke-width="1.5"/>
<text x="48.4" y="150.8" font-size="8.3" font-weight="bold" text-anchor="end" >0.0</text>
<line x1="49.40" y1="124.28" x2="53.60" y2="124.28" stroke="#000" stroke-width="1.5"/>
<text x="48.4" y="127.3" font-size="8.3" font-weight="bold" text-anchor="end" >0.5</text>
<line x1="49.40" y1="100.76" x2="53.60" y2="100.76" stroke="#000" stroke-width="1.5"/>
<text x="48.4" y="103.8" font-size="8.3" font-weight="bold" text-anchor="end" >1.0</text>
<line x1="49.40" y1="77.24" x2="53.60" y2="77.24" stroke="#000" stroke-width="1.5"/>
<text x="48.4" y="80.2" font-size="8.3" font-weight="bold" text-anchor="end" >1.5</text>
<line x1="49.40" y1="53.72" x2="53.60" y2="53.72" stroke="#000" stroke-width="1.5"/>
<text x="48.4" y="56.7" font-size="8.3" font-weight="bold" text-anchor="end" >2.0</text>
<line x1="49.40" y1="30.20" x2="53.60" y2="30.20" stroke="#000" stroke-width="1.5"/>
<text x="48.4" y="33.2" font-size="8.3" font-weight="bold" text-anchor="end" >2.5</text>
<line x1="52.80" y1="147.80" x2="250.40" y2="147.80" stroke="#000" stroke-width="1.6"/>
<line x1="103.00" y1="147.80" x2="103.00" y2="151.80" stroke="#000" stroke-width="1.5"/>
<line x1="201.10" y1="147.80" x2="201.10" y2="151.80" stroke="#000" stroke-width="1.5"/>
<text x="101.7" y="164.4" font-size="13.4" font-weight="normal" text-anchor="middle" >Positive</text>
<text x="200.6" y="164.4" font-size="13.4" font-weight="normal" text-anchor="middle" >Negative</text>
<text x="151.2" y="176.8" font-size="13.4" font-weight="normal" text-anchor="middle" >CMV status</text>
<text x="0.3" y="12.6" font-size="16.5" font-weight="bold" text-anchor="start" >A</text>
<text transform="translate(28.5,134.2) rotate(-90) scale(1.135,1)" font-size="11.85">Abs CD8 (10<tspan font-size="6.8" dy="-3.6">e</tspan><tspan dy="3.6">9/L)</tspan></text>
<line x1="309.20" y1="29.35" x2="309.20" y2="148.50" stroke="#000" stroke-width="1.6"/>
<line x1="305.00" y1="147.70" x2="309.20" y2="147.70" stroke="#000" stroke-width="1.5"/>
<text x="304.0" y="150.7" font-size="8.3" font-weight="bold" text-anchor="end" >0</text>
<line x1="305.00" y1="118.30" x2="309.20" y2="118.30" stroke="#000" stroke-width="1.5"/>
<text x="304.0" y="121.3" font-size="8.3" font-weight="bold" text-anchor="end" >1</text>
<line x1="305.00" y1="88.90" x2="309.20" y2="88.90" stroke="#000" stroke-width="1.5"/>
<text x="304.0" y="91.9" font-size="8.3" font-weight="bold" text-anchor="end" >2</text>
<line x1="305.00" y1="59.50" x2="309.20" y2="59.50" stroke="#000" stroke-width="1.5"/>
<text x="304.0" y="62.5" font-size="8.3" font-weight="bold" text-anchor="end" >3</text>
<line x1="305.00" y1="30.10" x2="309.20" y2="30.10" stroke="#000" stroke-width="1.5"/>
<text x="304.0" y="33.1" font-size="8.3" font-weight="bold" text-anchor="end" >4</text>
<line x1="308.40" y1="147.70" x2="505.80" y2="147.70" stroke="#000" stroke-width="1.6"/>
<line x1="358.50" y1="147.70" x2="358.50" y2="151.70" stroke="#000" stroke-width="1.5"/>
<line x1="456.50" y1="147.70" x2="456.50" y2="151.70" stroke="#000" stroke-width="1.5"/>
<text x="357.2" y="164.4" font-size="13.4" font-weight="normal" text-anchor="middle" >Positive</text>
<text x="456.0" y="164.4" font-size="13.4" font-weight="normal" text-anchor="middle" >Negative</text>
<text x="406.6" y="176.8" font-size="13.4" font-weight="normal" text-anchor="middle" >CMV status</text>
<text x="258.8" y="12.6" font-size="16.5" font-weight="bold" text-anchor="start" >B</text>
<text transform="translate(288.5,135.6) rotate(-90) scale(1.135,1)" font-size="11.85">Abs CD4 (10<tspan font-size="6.8" dy="-3.6">e</tspan><tspan dy="3.6">9/L)</tspan></text>
<line x1="54.80" y1="221.75" x2="54.80" y2="340.30" stroke="#000" stroke-width="1.6"/>
<line x1="50.60" y1="339.50" x2="54.80" y2="339.50" stroke="#000" stroke-width="1.5"/>
<text x="49.6" y="342.5" font-size="8.3" font-weight="bold" text-anchor="end" >0.0</text>
<line x1="50.60" y1="316.10" x2="54.80" y2="316.10" stroke="#000" stroke-width="1.5"/>
<text x="49.6" y="319.1" font-size="8.3" font-weight="bold" text-anchor="end" >0.2</text>
<line x1="50.60" y1="292.70" x2="54.80" y2="292.70" stroke="#000" stroke-width="1.5"/>
<text x="49.6" y="295.7" font-size="8.3" font-weight="bold" text-anchor="end" >0.4</text>
<line x1="50.60" y1="269.30" x2="54.80" y2="269.30" stroke="#000" stroke-width="1.5"/>
<text x="49.6" y="272.3" font-size="8.3" font-weight="bold" text-anchor="end" >0.6</text>
<line x1="50.60" y1="245.90" x2="54.80" y2="245.90" stroke="#000" stroke-width="1.5"/>
<text x="49.6" y="248.9" font-size="8.3" font-weight="bold" text-anchor="end" >0.8</text>
<line x1="50.60" y1="222.50" x2="54.80" y2="222.50" stroke="#000" stroke-width="1.5"/>
<text x="49.6" y="225.5" font-size="8.3" font-weight="bold" text-anchor="end" >1.0</text>
<line x1="54.00" y1="339.50" x2="250.50" y2="339.50" stroke="#000" stroke-width="1.6"/>
<line x1="103.00" y1="339.50" x2="103.00" y2="343.50" stroke="#000" stroke-width="1.5"/>
<line x1="200.80" y1="339.50" x2="200.80" y2="343.50" stroke="#000" stroke-width="1.5"/>
<text x="101.7" y="358.6" font-size="13.4" font-weight="normal" text-anchor="middle" >Positive</text>
<text x="200.3" y="358.6" font-size="13.4" font-weight="normal" text-anchor="middle" >Negative</text>
<text x="151.0" y="370.7" font-size="13.4" font-weight="normal" text-anchor="middle" >CMV status</text>
<text x="3.3" y="206.4" font-size="16.5" font-weight="bold" text-anchor="start" >C</text>
<text transform="translate(27.7,331.9) rotate(-90) scale(1.135,1)" font-size="11.85">Abs NK (10<tspan font-size="6.8" dy="-3.6">e</tspan><tspan dy="3.6">9/L)</tspan></text>
<line x1="310.20" y1="223.15" x2="310.20" y2="341.70" stroke="#000" stroke-width="1.6"/>
<line x1="306.00" y1="340.90" x2="310.20" y2="340.90" stroke="#000" stroke-width="1.5"/>
<text x="305.0" y="343.9" font-size="8.3" font-weight="bold" text-anchor="end" >0.0</text>
<line x1="306.00" y1="301.90" x2="310.20" y2="301.90" stroke="#000" stroke-width="1.5"/>
<text x="305.0" y="304.9" font-size="8.3" font-weight="bold" text-anchor="end" >0.5</text>
<line x1="306.00" y1="262.90" x2="310.20" y2="262.90" stroke="#000" stroke-width="1.5"/>
<text x="305.0" y="265.9" font-size="8.3" font-weight="bold" text-anchor="end" >1.0</text>
<line x1="306.00" y1="223.90" x2="310.20" y2="223.90" stroke="#000" stroke-width="1.5"/>
<text x="305.0" y="226.9" font-size="8.3" font-weight="bold" text-anchor="end" >1.5</text>
<line x1="309.40" y1="340.90" x2="506.60" y2="340.90" stroke="#000" stroke-width="1.6"/>
<line x1="358.80" y1="340.90" x2="358.80" y2="344.90" stroke="#000" stroke-width="1.5"/>
<line x1="457.00" y1="340.90" x2="457.00" y2="344.90" stroke="#000" stroke-width="1.5"/>
<text x="357.5" y="358.6" font-size="13.4" font-weight="normal" text-anchor="middle" >Positive</text>
<text x="456.5" y="358.6" font-size="13.4" font-weight="normal" text-anchor="middle" >Negative</text>
<text x="407.0" y="370.7" font-size="13.4" font-weight="normal" text-anchor="middle" >CMV status</text>
<text x="258.8" y="206.2" font-size="16.5" font-weight="bold" text-anchor="start" >D</text>
<text transform="translate(288.1,326.3) rotate(-90) scale(1.135,1)" font-size="11.85">Abs B (10<tspan font-size="6.8" dy="-3.6">e</tspan><tspan dy="3.6">9/L)</tspan></text>
<text x="122.5" y="33.7" font-size="13" font-weight="normal" text-anchor="start" ><tspan font-style="italic">P</tspan> &lt; .0001</text>
<text x="133.7" y="100.3" font-size="13.5" font-weight="normal" text-anchor="start" >0.427</text>
<text x="213.6" y="101.0" font-size="13.5" font-weight="normal" text-anchor="start" >0.259</text>
<line x1="69.60" y1="127.60" x2="136.10" y2="127.60" stroke="#000" stroke-width="1.6"/>
<line x1="168.00" y1="135.70" x2="233.60" y2="135.70" stroke="#000" stroke-width="1.6"/>
<line x1="325.40" y1="130.40" x2="391.60" y2="130.40" stroke="#000" stroke-width="1.6"/>
<line x1="423.00" y1="130.40" x2="489.60" y2="130.40" stroke="#000" stroke-width="1.6"/>
<line x1="70.40" y1="316.40" x2="136.50" y2="316.40" stroke="#000" stroke-width="1.6"/>
<line x1="168.50" y1="316.90" x2="234.40" y2="316.90" stroke="#000" stroke-width="1.6"/>
<line x1="326.20" y1="330.80" x2="392.00" y2="330.80" stroke="#000" stroke-width="1.6"/>
<line x1="423.60" y1="331.90" x2="489.40" y2="331.90" stroke="#000" stroke-width="1.6"/>
<text x="4.2" y="409.8" font-size="16.5" font-weight="bold" text-anchor="start" >E</text>
<text x="119.0" y="411.9" font-size="13.5" font-weight="normal" text-anchor="middle" >0.3% of CD8</text>
<text transform="translate(47.3,565.0) rotate(-90)" font-size="13.8">CMV pp65 YSE</text>
<rect x="55.10" y="419.4" width="135.75" height="144.10" fill="none" stroke="#000" stroke-width="1.8"/>
<text x="284.9" y="411.9" font-size="13.5" font-weight="normal" text-anchor="middle" >42% of CD8</text>
<text transform="translate(213.0,564.6) rotate(-90)" font-size="13.8">CMV IE ELR</text>
<rect x="220.25" y="419.4" width="135.60" height="144.10" fill="none" stroke="#000" stroke-width="1.8"/>
<text x="451.1" y="411.9" font-size="13.5" font-weight="normal" text-anchor="middle" >2.2% of CD8</text>
<text transform="translate(376.3,564.6) rotate(-90)" font-size="13.8">CMV IE QIK</text>
<rect x="383.10" y="419.4" width="136.10" height="144.10" fill="none" stroke="#000" stroke-width="1.8"/>
<text x="54.9" y="580.0" font-size="13.8" font-weight="normal" text-anchor="start" >CD8</text>
<line x1="95.40" y1="575.00" x2="518.50" y2="575.00" stroke="#000" stroke-width="1.5"/>
<rect x="124.30" y="445.30" width="39.00" height="24.30" fill="none" stroke="#000" stroke-width="1.6"/>
<rect x="287.20" y="453.30" width="39.20" height="52.00" fill="none" stroke="#000" stroke-width="1.6"/>
<rect x="456.10" y="441.80" width="33.90" height="38.50" fill="none" stroke="#000" stroke-width="1.6"/>
</svg></body></html>
